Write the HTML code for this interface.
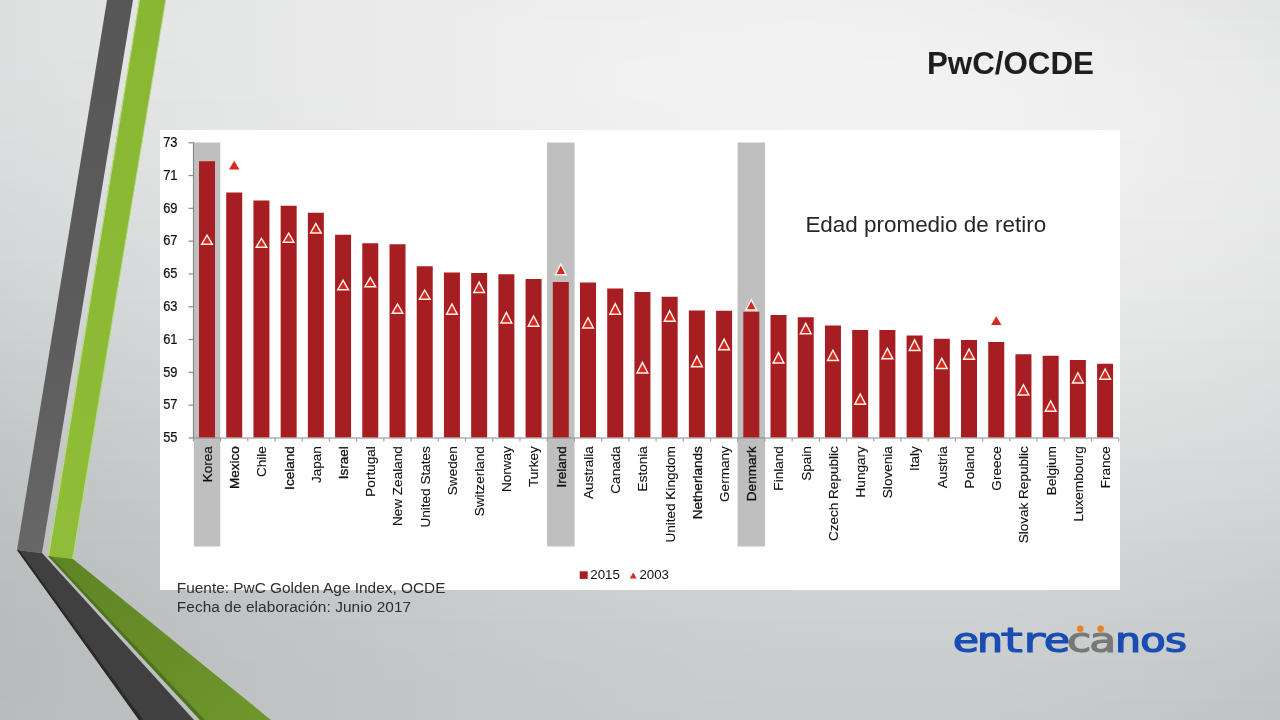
<!DOCTYPE html>
<html><head><meta charset="utf-8"><title>PwC/OCDE</title>
<style>
html,body{margin:0;padding:0;}
body{width:1280px;height:720px;overflow:hidden;position:relative;font-family:"Liberation Sans",sans-serif;background:#d8dada;}
#bg{position:absolute;left:0;top:0;width:1280px;height:720px;}
.title{position:absolute;left:927px;top:45.8px;font-weight:bold;font-size:31.3px;line-height:36px;color:#1e1e1e;white-space:nowrap;}
.sub{position:absolute;left:805.4px;top:210.6px;font-size:22.45px;line-height:28px;color:#262626;white-space:nowrap;}
.src{position:absolute;left:176.8px;top:579.1px;font-size:15.4px;line-height:18.4px;color:#2e2e2e;white-space:nowrap;}
svg text{font-family:"Liberation Sans",sans-serif;}
</style></head><body>
<svg id="bg" width="1280" height="720" viewBox="0 0 1280 720">
<defs>
<linearGradient id="s0"><stop offset="0" stop-color="#dee0e0"/><stop offset="0.0625" stop-color="#e1e2e2"/><stop offset="0.125" stop-color="#e3e5e5"/><stop offset="0.1875" stop-color="#e6e7e7"/><stop offset="0.25" stop-color="#e8e9e9"/><stop offset="0.3125" stop-color="#ebebeb"/><stop offset="0.375" stop-color="#ececec"/><stop offset="0.4375" stop-color="#eeeeee"/><stop offset="0.5" stop-color="#efefef"/><stop offset="0.5625" stop-color="#f0f0f0"/><stop offset="0.625" stop-color="#f0f0f0"/><stop offset="0.6875" stop-color="#efefef"/><stop offset="0.75" stop-color="#eeeeee"/><stop offset="0.8125" stop-color="#ececec"/><stop offset="0.875" stop-color="#eaeaea"/><stop offset="0.9375" stop-color="#e7e7e7"/><stop offset="1" stop-color="#e3e4e4"/></linearGradient>
<linearGradient id="s1"><stop offset="0" stop-color="#dee0e0"/><stop offset="0.0625" stop-color="#e1e3e3"/><stop offset="0.125" stop-color="#e4e5e5"/><stop offset="0.1875" stop-color="#e6e7e7"/><stop offset="0.25" stop-color="#e9e9e9"/><stop offset="0.3125" stop-color="#ebebeb"/><stop offset="0.375" stop-color="#ededed"/><stop offset="0.4375" stop-color="#eeeeee"/><stop offset="0.5" stop-color="#efefef"/><stop offset="0.5625" stop-color="#f0f0f0"/><stop offset="0.625" stop-color="#f0f0f0"/><stop offset="0.6875" stop-color="#f0f0f0"/><stop offset="0.75" stop-color="#efefef"/><stop offset="0.8125" stop-color="#ededed"/><stop offset="0.875" stop-color="#ebebeb"/><stop offset="0.9375" stop-color="#e7e8e8"/><stop offset="1" stop-color="#e3e5e5"/></linearGradient>
<linearGradient id="s2"><stop offset="0" stop-color="#dee0e0"/><stop offset="0.0625" stop-color="#e1e3e3"/><stop offset="0.125" stop-color="#e4e5e5"/><stop offset="0.1875" stop-color="#e6e7e7"/><stop offset="0.25" stop-color="#e9e9e9"/><stop offset="0.3125" stop-color="#ebebeb"/><stop offset="0.375" stop-color="#ededed"/><stop offset="0.4375" stop-color="#efefef"/><stop offset="0.5" stop-color="#f0f0f0"/><stop offset="0.5625" stop-color="#f0f0f0"/><stop offset="0.625" stop-color="#f1f1f1"/><stop offset="0.6875" stop-color="#f0f0f0"/><stop offset="0.75" stop-color="#efefef"/><stop offset="0.8125" stop-color="#eeeeee"/><stop offset="0.875" stop-color="#ebebeb"/><stop offset="0.9375" stop-color="#e8e9e9"/><stop offset="1" stop-color="#e4e5e5"/></linearGradient>
<linearGradient id="s3"><stop offset="0" stop-color="#dee0e0"/><stop offset="0.0625" stop-color="#e1e3e3"/><stop offset="0.125" stop-color="#e4e5e5"/><stop offset="0.1875" stop-color="#e6e7e7"/><stop offset="0.25" stop-color="#e9e9e9"/><stop offset="0.3125" stop-color="#ebebeb"/><stop offset="0.375" stop-color="#ededed"/><stop offset="0.4375" stop-color="#efefef"/><stop offset="0.5" stop-color="#f0f0f0"/><stop offset="0.5625" stop-color="#f1f1f1"/><stop offset="0.625" stop-color="#f1f1f1"/><stop offset="0.6875" stop-color="#f1f1f1"/><stop offset="0.75" stop-color="#f0f0f0"/><stop offset="0.8125" stop-color="#eeeeee"/><stop offset="0.875" stop-color="#ececec"/><stop offset="0.9375" stop-color="#e9e9e9"/><stop offset="1" stop-color="#e5e6e6"/></linearGradient>
<linearGradient id="s4"><stop offset="0" stop-color="#dee0e0"/><stop offset="0.0625" stop-color="#e1e3e3"/><stop offset="0.125" stop-color="#e4e5e5"/><stop offset="0.1875" stop-color="#e6e7e7"/><stop offset="0.25" stop-color="#e9e9e9"/><stop offset="0.3125" stop-color="#ebebeb"/><stop offset="0.375" stop-color="#ededed"/><stop offset="0.4375" stop-color="#efefef"/><stop offset="0.5" stop-color="#f0f0f0"/><stop offset="0.5625" stop-color="#f1f1f1"/><stop offset="0.625" stop-color="#f1f1f1"/><stop offset="0.6875" stop-color="#f1f1f1"/><stop offset="0.75" stop-color="#f0f0f0"/><stop offset="0.8125" stop-color="#efefef"/><stop offset="0.875" stop-color="#ededed"/><stop offset="0.9375" stop-color="#eaeaea"/><stop offset="1" stop-color="#e6e7e7"/></linearGradient>
<linearGradient id="s5"><stop offset="0" stop-color="#dee0e0"/><stop offset="0.0625" stop-color="#e1e2e2"/><stop offset="0.125" stop-color="#e4e5e5"/><stop offset="0.1875" stop-color="#e6e7e7"/><stop offset="0.25" stop-color="#e9e9e9"/><stop offset="0.3125" stop-color="#ebebeb"/><stop offset="0.375" stop-color="#ededed"/><stop offset="0.4375" stop-color="#efefef"/><stop offset="0.5" stop-color="#f0f0f0"/><stop offset="0.5625" stop-color="#f1f1f1"/><stop offset="0.625" stop-color="#f2f2f2"/><stop offset="0.6875" stop-color="#f1f1f1"/><stop offset="0.75" stop-color="#f1f1f1"/><stop offset="0.8125" stop-color="#efefef"/><stop offset="0.875" stop-color="#ededed"/><stop offset="0.9375" stop-color="#eaeaea"/><stop offset="1" stop-color="#e6e7e7"/></linearGradient>
<linearGradient id="s6"><stop offset="0" stop-color="#dde0e0"/><stop offset="0.0625" stop-color="#e0e2e2"/><stop offset="0.125" stop-color="#e3e5e5"/><stop offset="0.1875" stop-color="#e6e7e7"/><stop offset="0.25" stop-color="#e9e9e9"/><stop offset="0.3125" stop-color="#ebebeb"/><stop offset="0.375" stop-color="#ededed"/><stop offset="0.4375" stop-color="#efefef"/><stop offset="0.5" stop-color="#f1f1f1"/><stop offset="0.5625" stop-color="#f1f1f1"/><stop offset="0.625" stop-color="#f2f2f2"/><stop offset="0.6875" stop-color="#f2f2f2"/><stop offset="0.75" stop-color="#f1f1f1"/><stop offset="0.8125" stop-color="#f0f0f0"/><stop offset="0.875" stop-color="#ededed"/><stop offset="0.9375" stop-color="#ebebeb"/><stop offset="1" stop-color="#e7e8e8"/></linearGradient>
<linearGradient id="s7"><stop offset="0" stop-color="#dde0e0"/><stop offset="0.0625" stop-color="#e0e2e2"/><stop offset="0.125" stop-color="#e3e5e5"/><stop offset="0.1875" stop-color="#e6e7e7"/><stop offset="0.25" stop-color="#e9e9e9"/><stop offset="0.3125" stop-color="#ebebeb"/><stop offset="0.375" stop-color="#ededed"/><stop offset="0.4375" stop-color="#efefef"/><stop offset="0.5" stop-color="#f1f1f1"/><stop offset="0.5625" stop-color="#f2f2f2"/><stop offset="0.625" stop-color="#f2f2f2"/><stop offset="0.6875" stop-color="#f2f2f2"/><stop offset="0.75" stop-color="#f1f1f1"/><stop offset="0.8125" stop-color="#f0f0f0"/><stop offset="0.875" stop-color="#eeeeee"/><stop offset="0.9375" stop-color="#ebebeb"/><stop offset="1" stop-color="#e7e8e8"/></linearGradient>
<linearGradient id="s8"><stop offset="0" stop-color="#dddfdf"/><stop offset="0.0625" stop-color="#e0e2e2"/><stop offset="0.125" stop-color="#e3e4e4"/><stop offset="0.1875" stop-color="#e6e7e7"/><stop offset="0.25" stop-color="#e9e9e9"/><stop offset="0.3125" stop-color="#ebebeb"/><stop offset="0.375" stop-color="#ededed"/><stop offset="0.4375" stop-color="#efefef"/><stop offset="0.5" stop-color="#f1f1f1"/><stop offset="0.5625" stop-color="#f2f2f2"/><stop offset="0.625" stop-color="#f2f2f2"/><stop offset="0.6875" stop-color="#f2f2f2"/><stop offset="0.75" stop-color="#f1f1f1"/><stop offset="0.8125" stop-color="#f0f0f0"/><stop offset="0.875" stop-color="#eeeeee"/><stop offset="0.9375" stop-color="#ebebeb"/><stop offset="1" stop-color="#e8e8e8"/></linearGradient>
<linearGradient id="s9"><stop offset="0" stop-color="#dddfdf"/><stop offset="0.0625" stop-color="#e0e2e2"/><stop offset="0.125" stop-color="#e3e4e4"/><stop offset="0.1875" stop-color="#e6e7e7"/><stop offset="0.25" stop-color="#e8e9e9"/><stop offset="0.3125" stop-color="#ebebeb"/><stop offset="0.375" stop-color="#ededed"/><stop offset="0.4375" stop-color="#efefef"/><stop offset="0.5" stop-color="#f1f1f1"/><stop offset="0.5625" stop-color="#f2f2f2"/><stop offset="0.625" stop-color="#f2f2f2"/><stop offset="0.6875" stop-color="#f2f2f2"/><stop offset="0.75" stop-color="#f2f2f2"/><stop offset="0.8125" stop-color="#f0f0f0"/><stop offset="0.875" stop-color="#eeeeee"/><stop offset="0.9375" stop-color="#ececec"/><stop offset="1" stop-color="#e8e9e9"/></linearGradient>
<linearGradient id="s10"><stop offset="0" stop-color="#dcdfdf"/><stop offset="0.0625" stop-color="#dfe1e1"/><stop offset="0.125" stop-color="#e2e4e4"/><stop offset="0.1875" stop-color="#e5e6e6"/><stop offset="0.25" stop-color="#e8e9e9"/><stop offset="0.3125" stop-color="#ebebeb"/><stop offset="0.375" stop-color="#ededed"/><stop offset="0.4375" stop-color="#efefef"/><stop offset="0.5" stop-color="#f0f0f0"/><stop offset="0.5625" stop-color="#f2f2f2"/><stop offset="0.625" stop-color="#f2f2f2"/><stop offset="0.6875" stop-color="#f2f2f2"/><stop offset="0.75" stop-color="#f2f2f2"/><stop offset="0.8125" stop-color="#f0f0f0"/><stop offset="0.875" stop-color="#eeeeee"/><stop offset="0.9375" stop-color="#ececec"/><stop offset="1" stop-color="#e8e9e9"/></linearGradient>
<linearGradient id="s11"><stop offset="0" stop-color="#dcdede"/><stop offset="0.0625" stop-color="#dfe1e1"/><stop offset="0.125" stop-color="#e2e4e4"/><stop offset="0.1875" stop-color="#e5e6e6"/><stop offset="0.25" stop-color="#e8e9e9"/><stop offset="0.3125" stop-color="#eaebeb"/><stop offset="0.375" stop-color="#ededed"/><stop offset="0.4375" stop-color="#efefef"/><stop offset="0.5" stop-color="#f0f0f0"/><stop offset="0.5625" stop-color="#f1f1f1"/><stop offset="0.625" stop-color="#f2f2f2"/><stop offset="0.6875" stop-color="#f2f2f2"/><stop offset="0.75" stop-color="#f2f2f2"/><stop offset="0.8125" stop-color="#f0f0f0"/><stop offset="0.875" stop-color="#efefef"/><stop offset="0.9375" stop-color="#ececec"/><stop offset="1" stop-color="#e8e9e9"/></linearGradient>
<linearGradient id="s12"><stop offset="0" stop-color="#dbdede"/><stop offset="0.0625" stop-color="#dee1e1"/><stop offset="0.125" stop-color="#e2e3e3"/><stop offset="0.1875" stop-color="#e5e6e6"/><stop offset="0.25" stop-color="#e8e8e8"/><stop offset="0.3125" stop-color="#eaeaea"/><stop offset="0.375" stop-color="#ececec"/><stop offset="0.4375" stop-color="#eeeeee"/><stop offset="0.5" stop-color="#f0f0f0"/><stop offset="0.5625" stop-color="#f1f1f1"/><stop offset="0.625" stop-color="#f2f2f2"/><stop offset="0.6875" stop-color="#f2f2f2"/><stop offset="0.75" stop-color="#f2f2f2"/><stop offset="0.8125" stop-color="#f0f0f0"/><stop offset="0.875" stop-color="#efefef"/><stop offset="0.9375" stop-color="#ececec"/><stop offset="1" stop-color="#e9e9e9"/></linearGradient>
<linearGradient id="s13"><stop offset="0" stop-color="#dbdede"/><stop offset="0.0625" stop-color="#dee0e0"/><stop offset="0.125" stop-color="#e1e3e3"/><stop offset="0.1875" stop-color="#e4e5e5"/><stop offset="0.25" stop-color="#e7e8e8"/><stop offset="0.3125" stop-color="#eaeaea"/><stop offset="0.375" stop-color="#ececec"/><stop offset="0.4375" stop-color="#eeeeee"/><stop offset="0.5" stop-color="#f0f0f0"/><stop offset="0.5625" stop-color="#f1f1f1"/><stop offset="0.625" stop-color="#f2f2f2"/><stop offset="0.6875" stop-color="#f2f2f2"/><stop offset="0.75" stop-color="#f1f1f1"/><stop offset="0.8125" stop-color="#f0f0f0"/><stop offset="0.875" stop-color="#efefef"/><stop offset="0.9375" stop-color="#ececec"/><stop offset="1" stop-color="#e9e9e9"/></linearGradient>
<linearGradient id="s14"><stop offset="0" stop-color="#dadddd"/><stop offset="0.0625" stop-color="#dee0e0"/><stop offset="0.125" stop-color="#e1e3e3"/><stop offset="0.1875" stop-color="#e4e5e5"/><stop offset="0.25" stop-color="#e7e8e8"/><stop offset="0.3125" stop-color="#e9eaea"/><stop offset="0.375" stop-color="#ececec"/><stop offset="0.4375" stop-color="#eeeeee"/><stop offset="0.5" stop-color="#efefef"/><stop offset="0.5625" stop-color="#f1f1f1"/><stop offset="0.625" stop-color="#f1f1f1"/><stop offset="0.6875" stop-color="#f2f2f2"/><stop offset="0.75" stop-color="#f1f1f1"/><stop offset="0.8125" stop-color="#f0f0f0"/><stop offset="0.875" stop-color="#eeeeee"/><stop offset="0.9375" stop-color="#ececec"/><stop offset="1" stop-color="#e9e9e9"/></linearGradient>
<linearGradient id="s15"><stop offset="0" stop-color="#dadddd"/><stop offset="0.0625" stop-color="#dddfdf"/><stop offset="0.125" stop-color="#e0e2e2"/><stop offset="0.1875" stop-color="#e3e5e5"/><stop offset="0.25" stop-color="#e6e7e7"/><stop offset="0.3125" stop-color="#e9e9e9"/><stop offset="0.375" stop-color="#ebebeb"/><stop offset="0.4375" stop-color="#ededed"/><stop offset="0.5" stop-color="#efefef"/><stop offset="0.5625" stop-color="#f0f0f0"/><stop offset="0.625" stop-color="#f1f1f1"/><stop offset="0.6875" stop-color="#f1f1f1"/><stop offset="0.75" stop-color="#f1f1f1"/><stop offset="0.8125" stop-color="#f0f0f0"/><stop offset="0.875" stop-color="#eeeeee"/><stop offset="0.9375" stop-color="#ececec"/><stop offset="1" stop-color="#e9e9e9"/></linearGradient>
<linearGradient id="s16"><stop offset="0" stop-color="#d9dcdc"/><stop offset="0.0625" stop-color="#dcdfdf"/><stop offset="0.125" stop-color="#e0e2e2"/><stop offset="0.1875" stop-color="#e3e4e4"/><stop offset="0.25" stop-color="#e6e7e7"/><stop offset="0.3125" stop-color="#e8e9e9"/><stop offset="0.375" stop-color="#ebebeb"/><stop offset="0.4375" stop-color="#ededed"/><stop offset="0.5" stop-color="#efefef"/><stop offset="0.5625" stop-color="#f0f0f0"/><stop offset="0.625" stop-color="#f1f1f1"/><stop offset="0.6875" stop-color="#f1f1f1"/><stop offset="0.75" stop-color="#f1f1f1"/><stop offset="0.8125" stop-color="#f0f0f0"/><stop offset="0.875" stop-color="#eeeeee"/><stop offset="0.9375" stop-color="#ececec"/><stop offset="1" stop-color="#e9e9e9"/></linearGradient>
<linearGradient id="s17"><stop offset="0" stop-color="#d8dcdc"/><stop offset="0.0625" stop-color="#dcdede"/><stop offset="0.125" stop-color="#dfe1e1"/><stop offset="0.1875" stop-color="#e2e4e4"/><stop offset="0.25" stop-color="#e5e6e6"/><stop offset="0.3125" stop-color="#e8e9e9"/><stop offset="0.375" stop-color="#eaebeb"/><stop offset="0.4375" stop-color="#ededed"/><stop offset="0.5" stop-color="#eeeeee"/><stop offset="0.5625" stop-color="#f0f0f0"/><stop offset="0.625" stop-color="#f0f0f0"/><stop offset="0.6875" stop-color="#f1f1f1"/><stop offset="0.75" stop-color="#f0f0f0"/><stop offset="0.8125" stop-color="#f0f0f0"/><stop offset="0.875" stop-color="#eeeeee"/><stop offset="0.9375" stop-color="#ececec"/><stop offset="1" stop-color="#e8e9e9"/></linearGradient>
<linearGradient id="s18"><stop offset="0" stop-color="#d8dbdb"/><stop offset="0.0625" stop-color="#dbdede"/><stop offset="0.125" stop-color="#dee1e1"/><stop offset="0.1875" stop-color="#e2e3e3"/><stop offset="0.25" stop-color="#e5e6e6"/><stop offset="0.3125" stop-color="#e7e8e8"/><stop offset="0.375" stop-color="#eaeaea"/><stop offset="0.4375" stop-color="#ececec"/><stop offset="0.5" stop-color="#eeeeee"/><stop offset="0.5625" stop-color="#efefef"/><stop offset="0.625" stop-color="#f0f0f0"/><stop offset="0.6875" stop-color="#f0f0f0"/><stop offset="0.75" stop-color="#f0f0f0"/><stop offset="0.8125" stop-color="#efefef"/><stop offset="0.875" stop-color="#eeeeee"/><stop offset="0.9375" stop-color="#ebebeb"/><stop offset="1" stop-color="#e8e9e9"/></linearGradient>
<linearGradient id="s19"><stop offset="0" stop-color="#d7dada"/><stop offset="0.0625" stop-color="#dadddd"/><stop offset="0.125" stop-color="#dee0e0"/><stop offset="0.1875" stop-color="#e1e3e3"/><stop offset="0.25" stop-color="#e4e5e5"/><stop offset="0.3125" stop-color="#e7e8e8"/><stop offset="0.375" stop-color="#e9eaea"/><stop offset="0.4375" stop-color="#ebecec"/><stop offset="0.5" stop-color="#ededed"/><stop offset="0.5625" stop-color="#efefef"/><stop offset="0.625" stop-color="#f0f0f0"/><stop offset="0.6875" stop-color="#f0f0f0"/><stop offset="0.75" stop-color="#f0f0f0"/><stop offset="0.8125" stop-color="#efefef"/><stop offset="0.875" stop-color="#ededed"/><stop offset="0.9375" stop-color="#ebebeb"/><stop offset="1" stop-color="#e8e9e9"/></linearGradient>
<linearGradient id="s20"><stop offset="0" stop-color="#d6dada"/><stop offset="0.0625" stop-color="#dadddd"/><stop offset="0.125" stop-color="#dddfdf"/><stop offset="0.1875" stop-color="#e0e2e2"/><stop offset="0.25" stop-color="#e3e5e5"/><stop offset="0.3125" stop-color="#e6e7e7"/><stop offset="0.375" stop-color="#e9e9e9"/><stop offset="0.4375" stop-color="#ebebeb"/><stop offset="0.5" stop-color="#ededed"/><stop offset="0.5625" stop-color="#eeeeee"/><stop offset="0.625" stop-color="#efefef"/><stop offset="0.6875" stop-color="#efefef"/><stop offset="0.75" stop-color="#efefef"/><stop offset="0.8125" stop-color="#eeeeee"/><stop offset="0.875" stop-color="#ededed"/><stop offset="0.9375" stop-color="#ebebeb"/><stop offset="1" stop-color="#e8e8e8"/></linearGradient>
<linearGradient id="s21"><stop offset="0" stop-color="#d6d9d9"/><stop offset="0.0625" stop-color="#d9dcdc"/><stop offset="0.125" stop-color="#dcdfdf"/><stop offset="0.1875" stop-color="#e0e2e2"/><stop offset="0.25" stop-color="#e3e4e4"/><stop offset="0.3125" stop-color="#e5e6e6"/><stop offset="0.375" stop-color="#e8e9e9"/><stop offset="0.4375" stop-color="#eaebeb"/><stop offset="0.5" stop-color="#ececec"/><stop offset="0.5625" stop-color="#eeeeee"/><stop offset="0.625" stop-color="#efefef"/><stop offset="0.6875" stop-color="#efefef"/><stop offset="0.75" stop-color="#efefef"/><stop offset="0.8125" stop-color="#eeeeee"/><stop offset="0.875" stop-color="#ededed"/><stop offset="0.9375" stop-color="#eaebeb"/><stop offset="1" stop-color="#e7e8e8"/></linearGradient>
<linearGradient id="s22"><stop offset="0" stop-color="#d5d9d9"/><stop offset="0.0625" stop-color="#d8dbdb"/><stop offset="0.125" stop-color="#dcdede"/><stop offset="0.1875" stop-color="#dfe1e1"/><stop offset="0.25" stop-color="#e2e4e4"/><stop offset="0.3125" stop-color="#e5e6e6"/><stop offset="0.375" stop-color="#e7e8e8"/><stop offset="0.4375" stop-color="#eaeaea"/><stop offset="0.5" stop-color="#ebecec"/><stop offset="0.5625" stop-color="#ededed"/><stop offset="0.625" stop-color="#eeeeee"/><stop offset="0.6875" stop-color="#eeeeee"/><stop offset="0.75" stop-color="#eeeeee"/><stop offset="0.8125" stop-color="#eeeeee"/><stop offset="0.875" stop-color="#ececec"/><stop offset="0.9375" stop-color="#eaeaea"/><stop offset="1" stop-color="#e7e8e8"/></linearGradient>
<linearGradient id="s23"><stop offset="0" stop-color="#d4d8d8"/><stop offset="0.0625" stop-color="#d8dbdb"/><stop offset="0.125" stop-color="#dbdede"/><stop offset="0.1875" stop-color="#dee0e0"/><stop offset="0.25" stop-color="#e1e3e3"/><stop offset="0.3125" stop-color="#e4e5e5"/><stop offset="0.375" stop-color="#e7e7e7"/><stop offset="0.4375" stop-color="#e9e9e9"/><stop offset="0.5" stop-color="#ebebeb"/><stop offset="0.5625" stop-color="#ececec"/><stop offset="0.625" stop-color="#ededed"/><stop offset="0.6875" stop-color="#eeeeee"/><stop offset="0.75" stop-color="#eeeeee"/><stop offset="0.8125" stop-color="#ededed"/><stop offset="0.875" stop-color="#ececec"/><stop offset="0.9375" stop-color="#e9eaea"/><stop offset="1" stop-color="#e7e7e7"/></linearGradient>
<linearGradient id="s24"><stop offset="0" stop-color="#d3d7d7"/><stop offset="0.0625" stop-color="#d7dada"/><stop offset="0.125" stop-color="#dadddd"/><stop offset="0.1875" stop-color="#dde0e0"/><stop offset="0.25" stop-color="#e0e2e2"/><stop offset="0.3125" stop-color="#e3e5e5"/><stop offset="0.375" stop-color="#e6e7e7"/><stop offset="0.4375" stop-color="#e8e9e9"/><stop offset="0.5" stop-color="#eaeaea"/><stop offset="0.5625" stop-color="#ececec"/><stop offset="0.625" stop-color="#ededed"/><stop offset="0.6875" stop-color="#ededed"/><stop offset="0.75" stop-color="#ededed"/><stop offset="0.8125" stop-color="#ececec"/><stop offset="0.875" stop-color="#ebebeb"/><stop offset="0.9375" stop-color="#e9e9e9"/><stop offset="1" stop-color="#e6e7e7"/></linearGradient>
<linearGradient id="s25"><stop offset="0" stop-color="#d3d7d7"/><stop offset="0.0625" stop-color="#d6dada"/><stop offset="0.125" stop-color="#d9dcdc"/><stop offset="0.1875" stop-color="#dddfdf"/><stop offset="0.25" stop-color="#e0e2e2"/><stop offset="0.3125" stop-color="#e3e4e4"/><stop offset="0.375" stop-color="#e5e6e6"/><stop offset="0.4375" stop-color="#e7e8e8"/><stop offset="0.5" stop-color="#e9eaea"/><stop offset="0.5625" stop-color="#ebebeb"/><stop offset="0.625" stop-color="#ececec"/><stop offset="0.6875" stop-color="#ededed"/><stop offset="0.75" stop-color="#ededed"/><stop offset="0.8125" stop-color="#ececec"/><stop offset="0.875" stop-color="#ebebeb"/><stop offset="0.9375" stop-color="#e8e9e9"/><stop offset="1" stop-color="#e6e7e7"/></linearGradient>
<linearGradient id="s26"><stop offset="0" stop-color="#d2d6d6"/><stop offset="0.0625" stop-color="#d5d9d9"/><stop offset="0.125" stop-color="#d9dcdc"/><stop offset="0.1875" stop-color="#dcdede"/><stop offset="0.25" stop-color="#dfe1e1"/><stop offset="0.3125" stop-color="#e2e3e3"/><stop offset="0.375" stop-color="#e4e6e6"/><stop offset="0.4375" stop-color="#e7e8e8"/><stop offset="0.5" stop-color="#e9e9e9"/><stop offset="0.5625" stop-color="#eaebeb"/><stop offset="0.625" stop-color="#ebebeb"/><stop offset="0.6875" stop-color="#ececec"/><stop offset="0.75" stop-color="#ececec"/><stop offset="0.8125" stop-color="#ebebeb"/><stop offset="0.875" stop-color="#eaeaea"/><stop offset="0.9375" stop-color="#e8e9e9"/><stop offset="1" stop-color="#e5e6e6"/></linearGradient>
<linearGradient id="s27"><stop offset="0" stop-color="#d1d5d5"/><stop offset="0.0625" stop-color="#d4d8d8"/><stop offset="0.125" stop-color="#d8dbdb"/><stop offset="0.1875" stop-color="#dbdede"/><stop offset="0.25" stop-color="#dee0e0"/><stop offset="0.3125" stop-color="#e1e3e3"/><stop offset="0.375" stop-color="#e4e5e5"/><stop offset="0.4375" stop-color="#e6e7e7"/><stop offset="0.5" stop-color="#e8e9e9"/><stop offset="0.5625" stop-color="#e9eaea"/><stop offset="0.625" stop-color="#ebebeb"/><stop offset="0.6875" stop-color="#ebebeb"/><stop offset="0.75" stop-color="#ebebeb"/><stop offset="0.8125" stop-color="#ebebeb"/><stop offset="0.875" stop-color="#e9eaea"/><stop offset="0.9375" stop-color="#e7e8e8"/><stop offset="1" stop-color="#e4e6e6"/></linearGradient>
<linearGradient id="s28"><stop offset="0" stop-color="#d0d4d4"/><stop offset="0.0625" stop-color="#d3d7d7"/><stop offset="0.125" stop-color="#d7dada"/><stop offset="0.1875" stop-color="#dadddd"/><stop offset="0.25" stop-color="#dde0e0"/><stop offset="0.3125" stop-color="#e0e2e2"/><stop offset="0.375" stop-color="#e3e4e4"/><stop offset="0.4375" stop-color="#e5e6e6"/><stop offset="0.5" stop-color="#e7e8e8"/><stop offset="0.5625" stop-color="#e9e9e9"/><stop offset="0.625" stop-color="#eaeaea"/><stop offset="0.6875" stop-color="#eaebeb"/><stop offset="0.75" stop-color="#eaebeb"/><stop offset="0.8125" stop-color="#eaeaea"/><stop offset="0.875" stop-color="#e9e9e9"/><stop offset="0.9375" stop-color="#e7e7e7"/><stop offset="1" stop-color="#e4e5e5"/></linearGradient>
<linearGradient id="s29"><stop offset="0" stop-color="#cfd3d3"/><stop offset="0.0625" stop-color="#d3d7d7"/><stop offset="0.125" stop-color="#d6dada"/><stop offset="0.1875" stop-color="#d9dcdc"/><stop offset="0.25" stop-color="#dcdfdf"/><stop offset="0.3125" stop-color="#dfe1e1"/><stop offset="0.375" stop-color="#e2e4e4"/><stop offset="0.4375" stop-color="#e4e6e6"/><stop offset="0.5" stop-color="#e6e7e7"/><stop offset="0.5625" stop-color="#e8e9e9"/><stop offset="0.625" stop-color="#e9e9e9"/><stop offset="0.6875" stop-color="#eaeaea"/><stop offset="0.75" stop-color="#eaeaea"/><stop offset="0.8125" stop-color="#e9eaea"/><stop offset="0.875" stop-color="#e8e9e9"/><stop offset="0.9375" stop-color="#e6e7e7"/><stop offset="1" stop-color="#e3e5e5"/></linearGradient>
<linearGradient id="s30"><stop offset="0" stop-color="#ced2d2"/><stop offset="0.0625" stop-color="#d2d6d6"/><stop offset="0.125" stop-color="#d5d9d9"/><stop offset="0.1875" stop-color="#d8dcdc"/><stop offset="0.25" stop-color="#dbdede"/><stop offset="0.3125" stop-color="#dee1e1"/><stop offset="0.375" stop-color="#e1e3e3"/><stop offset="0.4375" stop-color="#e3e5e5"/><stop offset="0.5" stop-color="#e5e7e7"/><stop offset="0.5625" stop-color="#e7e8e8"/><stop offset="0.625" stop-color="#e8e9e9"/><stop offset="0.6875" stop-color="#e9e9e9"/><stop offset="0.75" stop-color="#e9e9e9"/><stop offset="0.8125" stop-color="#e8e9e9"/><stop offset="0.875" stop-color="#e7e8e8"/><stop offset="0.9375" stop-color="#e5e6e6"/><stop offset="1" stop-color="#e2e4e4"/></linearGradient>
<linearGradient id="s31"><stop offset="0" stop-color="#cdd1d1"/><stop offset="0.0625" stop-color="#d1d5d5"/><stop offset="0.125" stop-color="#d4d8d8"/><stop offset="0.1875" stop-color="#d7dbdb"/><stop offset="0.25" stop-color="#dbdddd"/><stop offset="0.3125" stop-color="#dee0e0"/><stop offset="0.375" stop-color="#e0e2e2"/><stop offset="0.4375" stop-color="#e3e4e4"/><stop offset="0.5" stop-color="#e5e6e6"/><stop offset="0.5625" stop-color="#e6e7e7"/><stop offset="0.625" stop-color="#e7e8e8"/><stop offset="0.6875" stop-color="#e8e9e9"/><stop offset="0.75" stop-color="#e8e9e9"/><stop offset="0.8125" stop-color="#e8e8e8"/><stop offset="0.875" stop-color="#e6e7e7"/><stop offset="0.9375" stop-color="#e4e6e6"/><stop offset="1" stop-color="#e2e3e3"/></linearGradient>
<linearGradient id="s32"><stop offset="0" stop-color="#cdd1d1"/><stop offset="0.0625" stop-color="#d0d4d4"/><stop offset="0.125" stop-color="#d3d7d7"/><stop offset="0.1875" stop-color="#d7dada"/><stop offset="0.25" stop-color="#dadddd"/><stop offset="0.3125" stop-color="#dddfdf"/><stop offset="0.375" stop-color="#dfe1e1"/><stop offset="0.4375" stop-color="#e2e3e3"/><stop offset="0.5" stop-color="#e4e5e5"/><stop offset="0.5625" stop-color="#e5e6e6"/><stop offset="0.625" stop-color="#e7e7e7"/><stop offset="0.6875" stop-color="#e7e8e8"/><stop offset="0.75" stop-color="#e7e8e8"/><stop offset="0.8125" stop-color="#e7e8e8"/><stop offset="0.875" stop-color="#e6e7e7"/><stop offset="0.9375" stop-color="#e4e5e5"/><stop offset="1" stop-color="#e1e3e3"/></linearGradient>
<linearGradient id="s33"><stop offset="0" stop-color="#ccd0d0"/><stop offset="0.0625" stop-color="#cfd3d3"/><stop offset="0.125" stop-color="#d2d6d6"/><stop offset="0.1875" stop-color="#d6d9d9"/><stop offset="0.25" stop-color="#d9dcdc"/><stop offset="0.3125" stop-color="#dcdede"/><stop offset="0.375" stop-color="#dee1e1"/><stop offset="0.4375" stop-color="#e1e3e3"/><stop offset="0.5" stop-color="#e3e4e4"/><stop offset="0.5625" stop-color="#e4e6e6"/><stop offset="0.625" stop-color="#e6e7e7"/><stop offset="0.6875" stop-color="#e6e7e7"/><stop offset="0.75" stop-color="#e6e7e7"/><stop offset="0.8125" stop-color="#e6e7e7"/><stop offset="0.875" stop-color="#e5e6e6"/><stop offset="0.9375" stop-color="#e3e4e4"/><stop offset="1" stop-color="#e0e2e2"/></linearGradient>
<linearGradient id="s34"><stop offset="0" stop-color="#cbcfcf"/><stop offset="0.0625" stop-color="#ced2d2"/><stop offset="0.125" stop-color="#d2d6d6"/><stop offset="0.1875" stop-color="#d5d9d9"/><stop offset="0.25" stop-color="#d8dbdb"/><stop offset="0.3125" stop-color="#dbdede"/><stop offset="0.375" stop-color="#dee0e0"/><stop offset="0.4375" stop-color="#e0e2e2"/><stop offset="0.5" stop-color="#e2e4e4"/><stop offset="0.5625" stop-color="#e4e5e5"/><stop offset="0.625" stop-color="#e5e6e6"/><stop offset="0.6875" stop-color="#e5e6e6"/><stop offset="0.75" stop-color="#e6e7e7"/><stop offset="0.8125" stop-color="#e5e6e6"/><stop offset="0.875" stop-color="#e4e5e5"/><stop offset="0.9375" stop-color="#e2e4e4"/><stop offset="1" stop-color="#dfe1e1"/></linearGradient>
<linearGradient id="s35"><stop offset="0" stop-color="#cacece"/><stop offset="0.0625" stop-color="#cdd1d1"/><stop offset="0.125" stop-color="#d1d5d5"/><stop offset="0.1875" stop-color="#d4d8d8"/><stop offset="0.25" stop-color="#d7dada"/><stop offset="0.3125" stop-color="#dadddd"/><stop offset="0.375" stop-color="#dddfdf"/><stop offset="0.4375" stop-color="#dfe1e1"/><stop offset="0.5" stop-color="#e1e3e3"/><stop offset="0.5625" stop-color="#e3e4e4"/><stop offset="0.625" stop-color="#e4e5e5"/><stop offset="0.6875" stop-color="#e5e6e6"/><stop offset="0.75" stop-color="#e5e6e6"/><stop offset="0.8125" stop-color="#e4e5e5"/><stop offset="0.875" stop-color="#e3e5e5"/><stop offset="0.9375" stop-color="#e1e3e3"/><stop offset="1" stop-color="#dfe1e1"/></linearGradient>
<linearGradient id="s36"><stop offset="0" stop-color="#c9cdcd"/><stop offset="0.0625" stop-color="#ccd0d0"/><stop offset="0.125" stop-color="#d0d4d4"/><stop offset="0.1875" stop-color="#d3d7d7"/><stop offset="0.25" stop-color="#d6dada"/><stop offset="0.3125" stop-color="#d9dcdc"/><stop offset="0.375" stop-color="#dcdede"/><stop offset="0.4375" stop-color="#dee0e0"/><stop offset="0.5" stop-color="#e0e2e2"/><stop offset="0.5625" stop-color="#e2e3e3"/><stop offset="0.625" stop-color="#e3e4e4"/><stop offset="0.6875" stop-color="#e4e5e5"/><stop offset="0.75" stop-color="#e4e5e5"/><stop offset="0.8125" stop-color="#e3e5e5"/><stop offset="0.875" stop-color="#e2e4e4"/><stop offset="0.9375" stop-color="#e0e2e2"/><stop offset="1" stop-color="#dee0e0"/></linearGradient>
<linearGradient id="s37"><stop offset="0" stop-color="#c8cccc"/><stop offset="0.0625" stop-color="#ccd0d0"/><stop offset="0.125" stop-color="#cfd3d3"/><stop offset="0.1875" stop-color="#d2d6d6"/><stop offset="0.25" stop-color="#d5d9d9"/><stop offset="0.3125" stop-color="#d8dbdb"/><stop offset="0.375" stop-color="#dbdede"/><stop offset="0.4375" stop-color="#dde0e0"/><stop offset="0.5" stop-color="#dfe1e1"/><stop offset="0.5625" stop-color="#e1e3e3"/><stop offset="0.625" stop-color="#e2e4e4"/><stop offset="0.6875" stop-color="#e3e4e4"/><stop offset="0.75" stop-color="#e3e4e4"/><stop offset="0.8125" stop-color="#e2e4e4"/><stop offset="0.875" stop-color="#e1e3e3"/><stop offset="0.9375" stop-color="#e0e2e2"/><stop offset="1" stop-color="#dddfdf"/></linearGradient>
<linearGradient id="s38"><stop offset="0" stop-color="#c7cbcb"/><stop offset="0.0625" stop-color="#cbcfcf"/><stop offset="0.125" stop-color="#ced2d2"/><stop offset="0.1875" stop-color="#d1d5d5"/><stop offset="0.25" stop-color="#d4d8d8"/><stop offset="0.3125" stop-color="#d7dada"/><stop offset="0.375" stop-color="#dadddd"/><stop offset="0.4375" stop-color="#dcdfdf"/><stop offset="0.5" stop-color="#dee0e0"/><stop offset="0.5625" stop-color="#e0e2e2"/><stop offset="0.625" stop-color="#e1e3e3"/><stop offset="0.6875" stop-color="#e2e3e3"/><stop offset="0.75" stop-color="#e2e4e4"/><stop offset="0.8125" stop-color="#e2e3e3"/><stop offset="0.875" stop-color="#e0e2e2"/><stop offset="0.9375" stop-color="#dfe1e1"/><stop offset="1" stop-color="#dcdfdf"/></linearGradient>
<linearGradient id="s39"><stop offset="0" stop-color="#c6caca"/><stop offset="0.0625" stop-color="#cacece"/><stop offset="0.125" stop-color="#cdd1d1"/><stop offset="0.1875" stop-color="#d0d4d4"/><stop offset="0.25" stop-color="#d3d7d7"/><stop offset="0.3125" stop-color="#d6dada"/><stop offset="0.375" stop-color="#d9dcdc"/><stop offset="0.4375" stop-color="#dbdede"/><stop offset="0.5" stop-color="#dde0e0"/><stop offset="0.5625" stop-color="#dfe1e1"/><stop offset="0.625" stop-color="#e0e2e2"/><stop offset="0.6875" stop-color="#e1e3e3"/><stop offset="0.75" stop-color="#e1e3e3"/><stop offset="0.8125" stop-color="#e1e2e2"/><stop offset="0.875" stop-color="#dfe1e1"/><stop offset="0.9375" stop-color="#dee0e0"/><stop offset="1" stop-color="#dbdede"/></linearGradient>
<linearGradient id="s40"><stop offset="0" stop-color="#c6caca"/><stop offset="0.0625" stop-color="#c9cdcd"/><stop offset="0.125" stop-color="#ccd0d0"/><stop offset="0.1875" stop-color="#cfd3d3"/><stop offset="0.25" stop-color="#d2d6d6"/><stop offset="0.3125" stop-color="#d5d9d9"/><stop offset="0.375" stop-color="#d8dbdb"/><stop offset="0.4375" stop-color="#dadddd"/><stop offset="0.5" stop-color="#dcdfdf"/><stop offset="0.5625" stop-color="#dee0e0"/><stop offset="0.625" stop-color="#dfe1e1"/><stop offset="0.6875" stop-color="#e0e2e2"/><stop offset="0.75" stop-color="#e0e2e2"/><stop offset="0.8125" stop-color="#e0e2e2"/><stop offset="0.875" stop-color="#dfe1e1"/><stop offset="0.9375" stop-color="#dddfdf"/><stop offset="1" stop-color="#dadddd"/></linearGradient>
<linearGradient id="s41"><stop offset="0" stop-color="#c5c9c9"/><stop offset="0.0625" stop-color="#c8cccc"/><stop offset="0.125" stop-color="#cbcfcf"/><stop offset="0.1875" stop-color="#ced2d2"/><stop offset="0.25" stop-color="#d1d5d5"/><stop offset="0.3125" stop-color="#d4d8d8"/><stop offset="0.375" stop-color="#d7dada"/><stop offset="0.4375" stop-color="#d9dcdc"/><stop offset="0.5" stop-color="#dbdede"/><stop offset="0.5625" stop-color="#dddfdf"/><stop offset="0.625" stop-color="#dee0e0"/><stop offset="0.6875" stop-color="#dfe1e1"/><stop offset="0.75" stop-color="#dfe1e1"/><stop offset="0.8125" stop-color="#dfe1e1"/><stop offset="0.875" stop-color="#dee0e0"/><stop offset="0.9375" stop-color="#dcdede"/><stop offset="1" stop-color="#d9dcdc"/></linearGradient>
<linearGradient id="s42"><stop offset="0" stop-color="#c4c8c8"/><stop offset="0.0625" stop-color="#c7cbcb"/><stop offset="0.125" stop-color="#cacece"/><stop offset="0.1875" stop-color="#ced2d2"/><stop offset="0.25" stop-color="#d1d5d5"/><stop offset="0.3125" stop-color="#d3d7d7"/><stop offset="0.375" stop-color="#d6dada"/><stop offset="0.4375" stop-color="#d8dcdc"/><stop offset="0.5" stop-color="#dadddd"/><stop offset="0.5625" stop-color="#dcdfdf"/><stop offset="0.625" stop-color="#dde0e0"/><stop offset="0.6875" stop-color="#dee0e0"/><stop offset="0.75" stop-color="#dee0e0"/><stop offset="0.8125" stop-color="#dee0e0"/><stop offset="0.875" stop-color="#dddfdf"/><stop offset="0.9375" stop-color="#dbdede"/><stop offset="1" stop-color="#d8dcdc"/></linearGradient>
<linearGradient id="s43"><stop offset="0" stop-color="#c3c7c7"/><stop offset="0.0625" stop-color="#c6caca"/><stop offset="0.125" stop-color="#c9cdcd"/><stop offset="0.1875" stop-color="#cdd1d1"/><stop offset="0.25" stop-color="#d0d4d4"/><stop offset="0.3125" stop-color="#d3d7d7"/><stop offset="0.375" stop-color="#d5d9d9"/><stop offset="0.4375" stop-color="#d7dbdb"/><stop offset="0.5" stop-color="#d9dcdc"/><stop offset="0.5625" stop-color="#dbdede"/><stop offset="0.625" stop-color="#dcdfdf"/><stop offset="0.6875" stop-color="#dddfdf"/><stop offset="0.75" stop-color="#dde0e0"/><stop offset="0.8125" stop-color="#dddfdf"/><stop offset="0.875" stop-color="#dcdede"/><stop offset="0.9375" stop-color="#dadddd"/><stop offset="1" stop-color="#d7dbdb"/></linearGradient>
<linearGradient id="s44"><stop offset="0" stop-color="#c2c6c6"/><stop offset="0.0625" stop-color="#c5c9c9"/><stop offset="0.125" stop-color="#c9cdcd"/><stop offset="0.1875" stop-color="#ccd0d0"/><stop offset="0.25" stop-color="#cfd3d3"/><stop offset="0.3125" stop-color="#d2d6d6"/><stop offset="0.375" stop-color="#d4d8d8"/><stop offset="0.4375" stop-color="#d7dada"/><stop offset="0.5" stop-color="#d9dcdc"/><stop offset="0.5625" stop-color="#dadddd"/><stop offset="0.625" stop-color="#dbdede"/><stop offset="0.6875" stop-color="#dcdfdf"/><stop offset="0.75" stop-color="#dcdfdf"/><stop offset="0.8125" stop-color="#dcdede"/><stop offset="0.875" stop-color="#dbdede"/><stop offset="0.9375" stop-color="#d9dcdc"/><stop offset="1" stop-color="#d6dada"/></linearGradient>
<linearGradient id="s45"><stop offset="0" stop-color="#c1c5c5"/><stop offset="0.0625" stop-color="#c5c9c9"/><stop offset="0.125" stop-color="#c8cccc"/><stop offset="0.1875" stop-color="#cbcfcf"/><stop offset="0.25" stop-color="#ced2d2"/><stop offset="0.3125" stop-color="#d1d5d5"/><stop offset="0.375" stop-color="#d3d7d7"/><stop offset="0.4375" stop-color="#d6d9d9"/><stop offset="0.5" stop-color="#d8dbdb"/><stop offset="0.5625" stop-color="#d9dcdc"/><stop offset="0.625" stop-color="#dadddd"/><stop offset="0.6875" stop-color="#dbdede"/><stop offset="0.75" stop-color="#dbdede"/><stop offset="0.8125" stop-color="#dbdede"/><stop offset="0.875" stop-color="#dadddd"/><stop offset="0.9375" stop-color="#d8dbdb"/><stop offset="1" stop-color="#d5d9d9"/></linearGradient>
<linearGradient id="s46"><stop offset="0" stop-color="#c1c5c5"/><stop offset="0.0625" stop-color="#c4c8c8"/><stop offset="0.125" stop-color="#c7cbcb"/><stop offset="0.1875" stop-color="#cacece"/><stop offset="0.25" stop-color="#cdd1d1"/><stop offset="0.3125" stop-color="#d0d4d4"/><stop offset="0.375" stop-color="#d2d6d6"/><stop offset="0.4375" stop-color="#d5d8d8"/><stop offset="0.5" stop-color="#d7dada"/><stop offset="0.5625" stop-color="#d8dbdb"/><stop offset="0.625" stop-color="#d9dcdc"/><stop offset="0.6875" stop-color="#dadddd"/><stop offset="0.75" stop-color="#dadddd"/><stop offset="0.8125" stop-color="#dadddd"/><stop offset="0.875" stop-color="#d9dcdc"/><stop offset="0.9375" stop-color="#d7dada"/><stop offset="1" stop-color="#d5d8d8"/></linearGradient>
<linearGradient id="s47"><stop offset="0" stop-color="#c0c4c4"/><stop offset="0.0625" stop-color="#c3c7c7"/><stop offset="0.125" stop-color="#c6caca"/><stop offset="0.1875" stop-color="#c9cdcd"/><stop offset="0.25" stop-color="#ccd0d0"/><stop offset="0.3125" stop-color="#cfd3d3"/><stop offset="0.375" stop-color="#d1d5d5"/><stop offset="0.4375" stop-color="#d4d8d8"/><stop offset="0.5" stop-color="#d6d9d9"/><stop offset="0.5625" stop-color="#d7dbdb"/><stop offset="0.625" stop-color="#d9dcdc"/><stop offset="0.6875" stop-color="#d9dcdc"/><stop offset="0.75" stop-color="#d9dcdc"/><stop offset="0.8125" stop-color="#d9dcdc"/><stop offset="0.875" stop-color="#d8dbdb"/><stop offset="0.9375" stop-color="#d6dada"/><stop offset="1" stop-color="#d4d7d7"/></linearGradient>
<linearGradient id="s48"><stop offset="0" stop-color="#bfc3c3"/><stop offset="0.0625" stop-color="#c2c6c6"/><stop offset="0.125" stop-color="#c5c9c9"/><stop offset="0.1875" stop-color="#c8cccc"/><stop offset="0.25" stop-color="#cbcfcf"/><stop offset="0.3125" stop-color="#ced2d2"/><stop offset="0.375" stop-color="#d1d5d5"/><stop offset="0.4375" stop-color="#d3d7d7"/><stop offset="0.5" stop-color="#d5d9d9"/><stop offset="0.5625" stop-color="#d6dada"/><stop offset="0.625" stop-color="#d8dbdb"/><stop offset="0.6875" stop-color="#d8dbdb"/><stop offset="0.75" stop-color="#d8dcdc"/><stop offset="0.8125" stop-color="#d8dbdb"/><stop offset="0.875" stop-color="#d7dada"/><stop offset="0.9375" stop-color="#d5d9d9"/><stop offset="1" stop-color="#d3d7d7"/></linearGradient>
<linearGradient id="s49"><stop offset="0" stop-color="#bec2c2"/><stop offset="0.0625" stop-color="#c2c6c6"/><stop offset="0.125" stop-color="#c5c9c9"/><stop offset="0.1875" stop-color="#c8cccc"/><stop offset="0.25" stop-color="#cacece"/><stop offset="0.3125" stop-color="#cdd1d1"/><stop offset="0.375" stop-color="#d0d4d4"/><stop offset="0.4375" stop-color="#d2d6d6"/><stop offset="0.5" stop-color="#d4d8d8"/><stop offset="0.5625" stop-color="#d5d9d9"/><stop offset="0.625" stop-color="#d7dada"/><stop offset="0.6875" stop-color="#d7dbdb"/><stop offset="0.75" stop-color="#d7dbdb"/><stop offset="0.8125" stop-color="#d7dada"/><stop offset="0.875" stop-color="#d6d9d9"/><stop offset="0.9375" stop-color="#d4d8d8"/><stop offset="1" stop-color="#d2d6d6"/></linearGradient>
<linearGradient id="s50"><stop offset="0" stop-color="#bec2c2"/><stop offset="0.0625" stop-color="#c1c5c5"/><stop offset="0.125" stop-color="#c4c8c8"/><stop offset="0.1875" stop-color="#c7cbcb"/><stop offset="0.25" stop-color="#cacece"/><stop offset="0.3125" stop-color="#ccd0d0"/><stop offset="0.375" stop-color="#cfd3d3"/><stop offset="0.4375" stop-color="#d1d5d5"/><stop offset="0.5" stop-color="#d3d7d7"/><stop offset="0.5625" stop-color="#d5d8d8"/><stop offset="0.625" stop-color="#d6d9d9"/><stop offset="0.6875" stop-color="#d6dada"/><stop offset="0.75" stop-color="#d6dada"/><stop offset="0.8125" stop-color="#d6dada"/><stop offset="0.875" stop-color="#d5d9d9"/><stop offset="0.9375" stop-color="#d3d7d7"/><stop offset="1" stop-color="#d1d5d5"/></linearGradient>
<linearGradient id="s51"><stop offset="0" stop-color="#bdc1c1"/><stop offset="0.0625" stop-color="#c0c4c4"/><stop offset="0.125" stop-color="#c3c7c7"/><stop offset="0.1875" stop-color="#c6caca"/><stop offset="0.25" stop-color="#c9cdcd"/><stop offset="0.3125" stop-color="#ccd0d0"/><stop offset="0.375" stop-color="#ced2d2"/><stop offset="0.4375" stop-color="#d0d4d4"/><stop offset="0.5" stop-color="#d2d6d6"/><stop offset="0.5625" stop-color="#d4d8d8"/><stop offset="0.625" stop-color="#d5d9d9"/><stop offset="0.6875" stop-color="#d5d9d9"/><stop offset="0.75" stop-color="#d6d9d9"/><stop offset="0.8125" stop-color="#d5d9d9"/><stop offset="0.875" stop-color="#d4d8d8"/><stop offset="0.9375" stop-color="#d2d6d6"/><stop offset="1" stop-color="#d0d4d4"/></linearGradient>
<linearGradient id="s52"><stop offset="0" stop-color="#bcc0c0"/><stop offset="0.0625" stop-color="#bfc3c3"/><stop offset="0.125" stop-color="#c2c6c6"/><stop offset="0.1875" stop-color="#c5c9c9"/><stop offset="0.25" stop-color="#c8cccc"/><stop offset="0.3125" stop-color="#cbcfcf"/><stop offset="0.375" stop-color="#cdd1d1"/><stop offset="0.4375" stop-color="#cfd3d3"/><stop offset="0.5" stop-color="#d1d5d5"/><stop offset="0.5625" stop-color="#d3d7d7"/><stop offset="0.625" stop-color="#d4d8d8"/><stop offset="0.6875" stop-color="#d5d8d8"/><stop offset="0.75" stop-color="#d5d8d8"/><stop offset="0.8125" stop-color="#d4d8d8"/><stop offset="0.875" stop-color="#d3d7d7"/><stop offset="0.9375" stop-color="#d1d5d5"/><stop offset="1" stop-color="#cfd3d3"/></linearGradient>
<linearGradient id="s53"><stop offset="0" stop-color="#bcc0c0"/><stop offset="0.0625" stop-color="#bfc3c3"/><stop offset="0.125" stop-color="#c2c6c6"/><stop offset="0.1875" stop-color="#c5c9c9"/><stop offset="0.25" stop-color="#c7cbcb"/><stop offset="0.3125" stop-color="#cacece"/><stop offset="0.375" stop-color="#ccd0d0"/><stop offset="0.4375" stop-color="#cfd3d3"/><stop offset="0.5" stop-color="#d0d4d4"/><stop offset="0.5625" stop-color="#d2d6d6"/><stop offset="0.625" stop-color="#d3d7d7"/><stop offset="0.6875" stop-color="#d4d8d8"/><stop offset="0.75" stop-color="#d4d8d8"/><stop offset="0.8125" stop-color="#d3d7d7"/><stop offset="0.875" stop-color="#d2d6d6"/><stop offset="0.9375" stop-color="#d0d4d4"/><stop offset="1" stop-color="#ced2d2"/></linearGradient>
<linearGradient id="s54"><stop offset="0" stop-color="#bbbfbf"/><stop offset="0.0625" stop-color="#bec2c2"/><stop offset="0.125" stop-color="#c1c5c5"/><stop offset="0.1875" stop-color="#c4c8c8"/><stop offset="0.25" stop-color="#c7cbcb"/><stop offset="0.3125" stop-color="#c9cdcd"/><stop offset="0.375" stop-color="#ccd0d0"/><stop offset="0.4375" stop-color="#ced2d2"/><stop offset="0.5" stop-color="#d0d4d4"/><stop offset="0.5625" stop-color="#d1d5d5"/><stop offset="0.625" stop-color="#d2d6d6"/><stop offset="0.6875" stop-color="#d3d7d7"/><stop offset="0.75" stop-color="#d3d7d7"/><stop offset="0.8125" stop-color="#d2d6d6"/><stop offset="0.875" stop-color="#d1d5d5"/><stop offset="0.9375" stop-color="#cfd3d3"/><stop offset="1" stop-color="#cdd1d1"/></linearGradient>
<linearGradient id="s55"><stop offset="0" stop-color="#bbbfbf"/><stop offset="0.0625" stop-color="#bec2c2"/><stop offset="0.125" stop-color="#c0c4c4"/><stop offset="0.1875" stop-color="#c3c7c7"/><stop offset="0.25" stop-color="#c6caca"/><stop offset="0.3125" stop-color="#c9cdcd"/><stop offset="0.375" stop-color="#cbcfcf"/><stop offset="0.4375" stop-color="#cdd1d1"/><stop offset="0.5" stop-color="#cfd3d3"/><stop offset="0.5625" stop-color="#d0d4d4"/><stop offset="0.625" stop-color="#d1d5d5"/><stop offset="0.6875" stop-color="#d2d6d6"/><stop offset="0.75" stop-color="#d2d6d6"/><stop offset="0.8125" stop-color="#d1d5d5"/><stop offset="0.875" stop-color="#d0d4d4"/><stop offset="0.9375" stop-color="#ced2d2"/><stop offset="1" stop-color="#ccd0d0"/></linearGradient>
<linearGradient id="s56"><stop offset="0" stop-color="#babebe"/><stop offset="0.0625" stop-color="#bdc1c1"/><stop offset="0.125" stop-color="#c0c4c4"/><stop offset="0.1875" stop-color="#c3c7c7"/><stop offset="0.25" stop-color="#c5c9c9"/><stop offset="0.3125" stop-color="#c8cccc"/><stop offset="0.375" stop-color="#cacece"/><stop offset="0.4375" stop-color="#ccd0d0"/><stop offset="0.5" stop-color="#ced2d2"/><stop offset="0.5625" stop-color="#cfd3d3"/><stop offset="0.625" stop-color="#d0d4d4"/><stop offset="0.6875" stop-color="#d1d5d5"/><stop offset="0.75" stop-color="#d1d5d5"/><stop offset="0.8125" stop-color="#d0d4d4"/><stop offset="0.875" stop-color="#cfd3d3"/><stop offset="0.9375" stop-color="#cdd1d1"/><stop offset="1" stop-color="#cbcfcf"/></linearGradient>
<linearGradient id="s57"><stop offset="0" stop-color="#babebe"/><stop offset="0.0625" stop-color="#bcc0c0"/><stop offset="0.125" stop-color="#bfc3c3"/><stop offset="0.1875" stop-color="#c2c6c6"/><stop offset="0.25" stop-color="#c5c9c9"/><stop offset="0.3125" stop-color="#c7cbcb"/><stop offset="0.375" stop-color="#c9cdcd"/><stop offset="0.4375" stop-color="#ccd0d0"/><stop offset="0.5" stop-color="#cdd1d1"/><stop offset="0.5625" stop-color="#cfd3d3"/><stop offset="0.625" stop-color="#d0d4d4"/><stop offset="0.6875" stop-color="#d0d4d4"/><stop offset="0.75" stop-color="#d0d4d4"/><stop offset="0.8125" stop-color="#d0d4d4"/><stop offset="0.875" stop-color="#ced2d2"/><stop offset="0.9375" stop-color="#cdd1d1"/><stop offset="1" stop-color="#cacece"/></linearGradient>
<linearGradient id="s58"><stop offset="0" stop-color="#b9bdbd"/><stop offset="0.0625" stop-color="#bcc0c0"/><stop offset="0.125" stop-color="#bfc3c3"/><stop offset="0.1875" stop-color="#c1c5c5"/><stop offset="0.25" stop-color="#c4c8c8"/><stop offset="0.3125" stop-color="#c7cbcb"/><stop offset="0.375" stop-color="#c9cdcd"/><stop offset="0.4375" stop-color="#cbcfcf"/><stop offset="0.5" stop-color="#cdd1d1"/><stop offset="0.5625" stop-color="#ced2d2"/><stop offset="0.625" stop-color="#cfd3d3"/><stop offset="0.6875" stop-color="#cfd3d3"/><stop offset="0.75" stop-color="#cfd3d3"/><stop offset="0.8125" stop-color="#cfd3d3"/><stop offset="0.875" stop-color="#ced2d2"/><stop offset="0.9375" stop-color="#ccd0d0"/><stop offset="1" stop-color="#c9cdcd"/></linearGradient>
<linearGradient id="s59"><stop offset="0" stop-color="#b9bdbd"/><stop offset="0.0625" stop-color="#bcc0c0"/><stop offset="0.125" stop-color="#bec2c2"/><stop offset="0.1875" stop-color="#c1c5c5"/><stop offset="0.25" stop-color="#c4c8c8"/><stop offset="0.3125" stop-color="#c6caca"/><stop offset="0.375" stop-color="#c8cccc"/><stop offset="0.4375" stop-color="#cacece"/><stop offset="0.5" stop-color="#ccd0d0"/><stop offset="0.5625" stop-color="#cdd1d1"/><stop offset="0.625" stop-color="#ced2d2"/><stop offset="0.6875" stop-color="#cfd3d3"/><stop offset="0.75" stop-color="#cfd3d3"/><stop offset="0.8125" stop-color="#ced2d2"/><stop offset="0.875" stop-color="#cdd1d1"/><stop offset="0.9375" stop-color="#cbcfcf"/><stop offset="1" stop-color="#c8cccc"/></linearGradient>
<linearGradient id="s60"><stop offset="0" stop-color="#b9bdbd"/><stop offset="0.0625" stop-color="#bbbfbf"/><stop offset="0.125" stop-color="#bec2c2"/><stop offset="0.1875" stop-color="#c0c4c4"/><stop offset="0.25" stop-color="#c3c7c7"/><stop offset="0.3125" stop-color="#c5c9c9"/><stop offset="0.375" stop-color="#c8cccc"/><stop offset="0.4375" stop-color="#cacece"/><stop offset="0.5" stop-color="#cbcfcf"/><stop offset="0.5625" stop-color="#cdd1d1"/><stop offset="0.625" stop-color="#cdd1d1"/><stop offset="0.6875" stop-color="#ced2d2"/><stop offset="0.75" stop-color="#ced2d2"/><stop offset="0.8125" stop-color="#cdd1d1"/><stop offset="0.875" stop-color="#ccd0d0"/><stop offset="0.9375" stop-color="#cacece"/><stop offset="1" stop-color="#c7cbcb"/></linearGradient>
<linearGradient id="s61"><stop offset="0" stop-color="#b8bcbc"/><stop offset="0.0625" stop-color="#bbbfbf"/><stop offset="0.125" stop-color="#bdc1c1"/><stop offset="0.1875" stop-color="#c0c4c4"/><stop offset="0.25" stop-color="#c3c7c7"/><stop offset="0.3125" stop-color="#c5c9c9"/><stop offset="0.375" stop-color="#c7cbcb"/><stop offset="0.4375" stop-color="#c9cdcd"/><stop offset="0.5" stop-color="#cbcfcf"/><stop offset="0.5625" stop-color="#ccd0d0"/><stop offset="0.625" stop-color="#cdd1d1"/><stop offset="0.6875" stop-color="#cdd1d1"/><stop offset="0.75" stop-color="#cdd1d1"/><stop offset="0.8125" stop-color="#ccd0d0"/><stop offset="0.875" stop-color="#cbcfcf"/><stop offset="0.9375" stop-color="#c9cdcd"/><stop offset="1" stop-color="#c7cbcb"/></linearGradient>
<linearGradient id="s62"><stop offset="0" stop-color="#b8bcbc"/><stop offset="0.0625" stop-color="#babebe"/><stop offset="0.125" stop-color="#bdc1c1"/><stop offset="0.1875" stop-color="#c0c4c4"/><stop offset="0.25" stop-color="#c2c6c6"/><stop offset="0.3125" stop-color="#c4c8c8"/><stop offset="0.375" stop-color="#c6caca"/><stop offset="0.4375" stop-color="#c8cccc"/><stop offset="0.5" stop-color="#cacece"/><stop offset="0.5625" stop-color="#cbcfcf"/><stop offset="0.625" stop-color="#ccd0d0"/><stop offset="0.6875" stop-color="#ccd0d0"/><stop offset="0.75" stop-color="#ccd0d0"/><stop offset="0.8125" stop-color="#ccd0d0"/><stop offset="0.875" stop-color="#cacece"/><stop offset="0.9375" stop-color="#c8cccc"/><stop offset="1" stop-color="#c6caca"/></linearGradient>
<linearGradient id="s63"><stop offset="0" stop-color="#b8bcbc"/><stop offset="0.0625" stop-color="#babebe"/><stop offset="0.125" stop-color="#bdc1c1"/><stop offset="0.1875" stop-color="#bfc3c3"/><stop offset="0.25" stop-color="#c2c6c6"/><stop offset="0.3125" stop-color="#c4c8c8"/><stop offset="0.375" stop-color="#c6caca"/><stop offset="0.4375" stop-color="#c8cccc"/><stop offset="0.5" stop-color="#c9cdcd"/><stop offset="0.5625" stop-color="#cbcfcf"/><stop offset="0.625" stop-color="#cbcfcf"/><stop offset="0.6875" stop-color="#ccd0d0"/><stop offset="0.75" stop-color="#ccd0d0"/><stop offset="0.8125" stop-color="#cbcfcf"/><stop offset="0.875" stop-color="#cacece"/><stop offset="0.9375" stop-color="#c8cccc"/><stop offset="1" stop-color="#c5c9c9"/></linearGradient>
<linearGradient id="s64"><stop offset="0" stop-color="#b8bcbc"/><stop offset="0.0625" stop-color="#babebe"/><stop offset="0.125" stop-color="#bcc0c0"/><stop offset="0.1875" stop-color="#bfc3c3"/><stop offset="0.25" stop-color="#c1c5c5"/><stop offset="0.3125" stop-color="#c4c8c8"/><stop offset="0.375" stop-color="#c6caca"/><stop offset="0.4375" stop-color="#c7cbcb"/><stop offset="0.5" stop-color="#c9cdcd"/><stop offset="0.5625" stop-color="#cacece"/><stop offset="0.625" stop-color="#cbcfcf"/><stop offset="0.6875" stop-color="#cbcfcf"/><stop offset="0.75" stop-color="#cbcfcf"/><stop offset="0.8125" stop-color="#cacece"/><stop offset="0.875" stop-color="#c9cdcd"/><stop offset="0.9375" stop-color="#c7cbcb"/><stop offset="1" stop-color="#c4c8c8"/></linearGradient>
<linearGradient id="s65"><stop offset="0" stop-color="#b7bbbb"/><stop offset="0.0625" stop-color="#babebe"/><stop offset="0.125" stop-color="#bcc0c0"/><stop offset="0.1875" stop-color="#bfc3c3"/><stop offset="0.25" stop-color="#c1c5c5"/><stop offset="0.3125" stop-color="#c3c7c7"/><stop offset="0.375" stop-color="#c5c9c9"/><stop offset="0.4375" stop-color="#c7cbcb"/><stop offset="0.5" stop-color="#c8cccc"/><stop offset="0.5625" stop-color="#c9cdcd"/><stop offset="0.625" stop-color="#cacece"/><stop offset="0.6875" stop-color="#cacece"/><stop offset="0.75" stop-color="#cacece"/><stop offset="0.8125" stop-color="#cacece"/><stop offset="0.875" stop-color="#c8cccc"/><stop offset="0.9375" stop-color="#c6caca"/><stop offset="1" stop-color="#c3c7c7"/></linearGradient>
<linearGradient id="s66"><stop offset="0" stop-color="#b7bbbb"/><stop offset="0.0625" stop-color="#babebe"/><stop offset="0.125" stop-color="#bcc0c0"/><stop offset="0.1875" stop-color="#bec2c2"/><stop offset="0.25" stop-color="#c1c5c5"/><stop offset="0.3125" stop-color="#c3c7c7"/><stop offset="0.375" stop-color="#c5c9c9"/><stop offset="0.4375" stop-color="#c6caca"/><stop offset="0.5" stop-color="#c8cccc"/><stop offset="0.5625" stop-color="#c9cdcd"/><stop offset="0.625" stop-color="#cacece"/><stop offset="0.6875" stop-color="#cacece"/><stop offset="0.75" stop-color="#cacece"/><stop offset="0.8125" stop-color="#c9cdcd"/><stop offset="0.875" stop-color="#c7cbcb"/><stop offset="0.9375" stop-color="#c5c9c9"/><stop offset="1" stop-color="#c3c7c7"/></linearGradient>
<linearGradient id="s67"><stop offset="0" stop-color="#b7bbbb"/><stop offset="0.0625" stop-color="#babebe"/><stop offset="0.125" stop-color="#bcc0c0"/><stop offset="0.1875" stop-color="#bec2c2"/><stop offset="0.25" stop-color="#c0c4c4"/><stop offset="0.3125" stop-color="#c3c7c7"/><stop offset="0.375" stop-color="#c4c8c8"/><stop offset="0.4375" stop-color="#c6caca"/><stop offset="0.5" stop-color="#c7cbcb"/><stop offset="0.5625" stop-color="#c9cdcd"/><stop offset="0.625" stop-color="#c9cdcd"/><stop offset="0.6875" stop-color="#c9cdcd"/><stop offset="0.75" stop-color="#c9cdcd"/><stop offset="0.8125" stop-color="#c8cccc"/><stop offset="0.875" stop-color="#c7cbcb"/><stop offset="0.9375" stop-color="#c5c9c9"/><stop offset="1" stop-color="#c2c6c6"/></linearGradient>
<linearGradient id="s68"><stop offset="0" stop-color="#b7bbbb"/><stop offset="0.0625" stop-color="#babebe"/><stop offset="0.125" stop-color="#bcc0c0"/><stop offset="0.1875" stop-color="#bec2c2"/><stop offset="0.25" stop-color="#c0c4c4"/><stop offset="0.3125" stop-color="#c2c6c6"/><stop offset="0.375" stop-color="#c4c8c8"/><stop offset="0.4375" stop-color="#c6caca"/><stop offset="0.5" stop-color="#c7cbcb"/><stop offset="0.5625" stop-color="#c8cccc"/><stop offset="0.625" stop-color="#c9cdcd"/><stop offset="0.6875" stop-color="#c9cdcd"/><stop offset="0.75" stop-color="#c9cdcd"/><stop offset="0.8125" stop-color="#c8cccc"/><stop offset="0.875" stop-color="#c6caca"/><stop offset="0.9375" stop-color="#c4c8c8"/><stop offset="1" stop-color="#c1c5c5"/></linearGradient>
<linearGradient id="s69"><stop offset="0" stop-color="#b7bbbb"/><stop offset="0.0625" stop-color="#babebe"/><stop offset="0.125" stop-color="#bcc0c0"/><stop offset="0.1875" stop-color="#bec2c2"/><stop offset="0.25" stop-color="#c0c4c4"/><stop offset="0.3125" stop-color="#c2c6c6"/><stop offset="0.375" stop-color="#c4c8c8"/><stop offset="0.4375" stop-color="#c5c9c9"/><stop offset="0.5" stop-color="#c7cbcb"/><stop offset="0.5625" stop-color="#c8cccc"/><stop offset="0.625" stop-color="#c8cccc"/><stop offset="0.6875" stop-color="#c8cccc"/><stop offset="0.75" stop-color="#c8cccc"/><stop offset="0.8125" stop-color="#c7cbcb"/><stop offset="0.875" stop-color="#c6caca"/><stop offset="0.9375" stop-color="#c4c8c8"/><stop offset="1" stop-color="#c1c5c5"/></linearGradient>
<linearGradient id="s70"><stop offset="0" stop-color="#b8bcbc"/><stop offset="0.0625" stop-color="#babebe"/><stop offset="0.125" stop-color="#bcc0c0"/><stop offset="0.1875" stop-color="#bec2c2"/><stop offset="0.25" stop-color="#c0c4c4"/><stop offset="0.3125" stop-color="#c2c6c6"/><stop offset="0.375" stop-color="#c4c8c8"/><stop offset="0.4375" stop-color="#c5c9c9"/><stop offset="0.5" stop-color="#c7cbcb"/><stop offset="0.5625" stop-color="#c7cbcb"/><stop offset="0.625" stop-color="#c8cccc"/><stop offset="0.6875" stop-color="#c8cccc"/><stop offset="0.75" stop-color="#c8cccc"/><stop offset="0.8125" stop-color="#c7cbcb"/><stop offset="0.875" stop-color="#c5c9c9"/><stop offset="0.9375" stop-color="#c3c7c7"/><stop offset="1" stop-color="#c0c4c4"/></linearGradient>
<linearGradient id="s71"><stop offset="0" stop-color="#b8bcbc"/><stop offset="0.0625" stop-color="#babebe"/><stop offset="0.125" stop-color="#bcc0c0"/><stop offset="0.1875" stop-color="#bec2c2"/><stop offset="0.25" stop-color="#c0c4c4"/><stop offset="0.3125" stop-color="#c2c6c6"/><stop offset="0.375" stop-color="#c4c8c8"/><stop offset="0.4375" stop-color="#c5c9c9"/><stop offset="0.5" stop-color="#c6caca"/><stop offset="0.5625" stop-color="#c7cbcb"/><stop offset="0.625" stop-color="#c8cccc"/><stop offset="0.6875" stop-color="#c8cccc"/><stop offset="0.75" stop-color="#c7cbcb"/><stop offset="0.8125" stop-color="#c6caca"/><stop offset="0.875" stop-color="#c5c9c9"/><stop offset="0.9375" stop-color="#c2c6c6"/><stop offset="1" stop-color="#c0c4c4"/></linearGradient></defs>
<rect x="0" y="0" width="1280" height="10.5" fill="url(#s0)"/>
<rect x="0" y="10" width="1280" height="10.5" fill="url(#s1)"/>
<rect x="0" y="20" width="1280" height="10.5" fill="url(#s2)"/>
<rect x="0" y="30" width="1280" height="10.5" fill="url(#s3)"/>
<rect x="0" y="40" width="1280" height="10.5" fill="url(#s4)"/>
<rect x="0" y="50" width="1280" height="10.5" fill="url(#s5)"/>
<rect x="0" y="60" width="1280" height="10.5" fill="url(#s6)"/>
<rect x="0" y="70" width="1280" height="10.5" fill="url(#s7)"/>
<rect x="0" y="80" width="1280" height="10.5" fill="url(#s8)"/>
<rect x="0" y="90" width="1280" height="10.5" fill="url(#s9)"/>
<rect x="0" y="100" width="1280" height="10.5" fill="url(#s10)"/>
<rect x="0" y="110" width="1280" height="10.5" fill="url(#s11)"/>
<rect x="0" y="120" width="1280" height="10.5" fill="url(#s12)"/>
<rect x="0" y="130" width="1280" height="10.5" fill="url(#s13)"/>
<rect x="0" y="140" width="1280" height="10.5" fill="url(#s14)"/>
<rect x="0" y="150" width="1280" height="10.5" fill="url(#s15)"/>
<rect x="0" y="160" width="1280" height="10.5" fill="url(#s16)"/>
<rect x="0" y="170" width="1280" height="10.5" fill="url(#s17)"/>
<rect x="0" y="180" width="1280" height="10.5" fill="url(#s18)"/>
<rect x="0" y="190" width="1280" height="10.5" fill="url(#s19)"/>
<rect x="0" y="200" width="1280" height="10.5" fill="url(#s20)"/>
<rect x="0" y="210" width="1280" height="10.5" fill="url(#s21)"/>
<rect x="0" y="220" width="1280" height="10.5" fill="url(#s22)"/>
<rect x="0" y="230" width="1280" height="10.5" fill="url(#s23)"/>
<rect x="0" y="240" width="1280" height="10.5" fill="url(#s24)"/>
<rect x="0" y="250" width="1280" height="10.5" fill="url(#s25)"/>
<rect x="0" y="260" width="1280" height="10.5" fill="url(#s26)"/>
<rect x="0" y="270" width="1280" height="10.5" fill="url(#s27)"/>
<rect x="0" y="280" width="1280" height="10.5" fill="url(#s28)"/>
<rect x="0" y="290" width="1280" height="10.5" fill="url(#s29)"/>
<rect x="0" y="300" width="1280" height="10.5" fill="url(#s30)"/>
<rect x="0" y="310" width="1280" height="10.5" fill="url(#s31)"/>
<rect x="0" y="320" width="1280" height="10.5" fill="url(#s32)"/>
<rect x="0" y="330" width="1280" height="10.5" fill="url(#s33)"/>
<rect x="0" y="340" width="1280" height="10.5" fill="url(#s34)"/>
<rect x="0" y="350" width="1280" height="10.5" fill="url(#s35)"/>
<rect x="0" y="360" width="1280" height="10.5" fill="url(#s36)"/>
<rect x="0" y="370" width="1280" height="10.5" fill="url(#s37)"/>
<rect x="0" y="380" width="1280" height="10.5" fill="url(#s38)"/>
<rect x="0" y="390" width="1280" height="10.5" fill="url(#s39)"/>
<rect x="0" y="400" width="1280" height="10.5" fill="url(#s40)"/>
<rect x="0" y="410" width="1280" height="10.5" fill="url(#s41)"/>
<rect x="0" y="420" width="1280" height="10.5" fill="url(#s42)"/>
<rect x="0" y="430" width="1280" height="10.5" fill="url(#s43)"/>
<rect x="0" y="440" width="1280" height="10.5" fill="url(#s44)"/>
<rect x="0" y="450" width="1280" height="10.5" fill="url(#s45)"/>
<rect x="0" y="460" width="1280" height="10.5" fill="url(#s46)"/>
<rect x="0" y="470" width="1280" height="10.5" fill="url(#s47)"/>
<rect x="0" y="480" width="1280" height="10.5" fill="url(#s48)"/>
<rect x="0" y="490" width="1280" height="10.5" fill="url(#s49)"/>
<rect x="0" y="500" width="1280" height="10.5" fill="url(#s50)"/>
<rect x="0" y="510" width="1280" height="10.5" fill="url(#s51)"/>
<rect x="0" y="520" width="1280" height="10.5" fill="url(#s52)"/>
<rect x="0" y="530" width="1280" height="10.5" fill="url(#s53)"/>
<rect x="0" y="540" width="1280" height="10.5" fill="url(#s54)"/>
<rect x="0" y="550" width="1280" height="10.5" fill="url(#s55)"/>
<rect x="0" y="560" width="1280" height="10.5" fill="url(#s56)"/>
<rect x="0" y="570" width="1280" height="10.5" fill="url(#s57)"/>
<rect x="0" y="580" width="1280" height="10.5" fill="url(#s58)"/>
<rect x="0" y="590" width="1280" height="10.5" fill="url(#s59)"/>
<rect x="0" y="600" width="1280" height="10.5" fill="url(#s60)"/>
<rect x="0" y="610" width="1280" height="10.5" fill="url(#s61)"/>
<rect x="0" y="620" width="1280" height="10.5" fill="url(#s62)"/>
<rect x="0" y="630" width="1280" height="10.5" fill="url(#s63)"/>
<rect x="0" y="640" width="1280" height="10.5" fill="url(#s64)"/>
<rect x="0" y="650" width="1280" height="10.5" fill="url(#s65)"/>
<rect x="0" y="660" width="1280" height="10.5" fill="url(#s66)"/>
<rect x="0" y="670" width="1280" height="10.5" fill="url(#s67)"/>
<rect x="0" y="680" width="1280" height="10.5" fill="url(#s68)"/>
<rect x="0" y="690" width="1280" height="10.5" fill="url(#s69)"/>
<rect x="0" y="700" width="1280" height="10.5" fill="url(#s70)"/>
<rect x="0" y="710" width="1280" height="10.5" fill="url(#s71)"/>
<linearGradient id="gg" x1="0" y1="0" x2="0" y2="1"><stop offset="0" stop-color="#575757"/><stop offset="0.6" stop-color="#5c5c5c"/><stop offset="1" stop-color="#676767"/></linearGradient>
<linearGradient id="gn" x1="0" y1="0" x2="0" y2="1"><stop offset="0" stop-color="#89b733"/><stop offset="1" stop-color="#8fbd38"/></linearGradient>
<linearGradient id="gl" x1="0" y1="0" x2="1" y2="1"><stop offset="0" stop-color="#5f8425"/><stop offset="0.5" stop-color="#678c28"/><stop offset="1" stop-color="#6f972b"/></linearGradient>
<polygon points="107,0 133,0 42,553 17,550" fill="url(#gg)"/>
<polygon points="17,550 42,553 194,720 139,720" fill="#404040"/>
<polygon points="17,550 139,720 143,720 19.5,550.3" fill="#2a2a2a"/>
<polygon points="139,0 166,0 73,559 48,556" fill="url(#gn)"/>
<path d="M139.5,0 L48.5,556" stroke="#cfe6a0" stroke-width="1" fill="none" opacity="0.8"/>
<path d="M165.7,0 L72.7,559" stroke="#cfe6a0" stroke-width="1" fill="none" opacity="0.7"/>
<polygon points="48,556 73,559 271,720 200,720" fill="url(#gl)"/>
<polygon points="48,556 200,720 205,720 51.5,556.4" fill="#4f7320"/>
<rect x="160" y="130" width="960" height="460" fill="#ffffff"/>

<rect x="193.90" y="142.5" width="26.40" height="404" fill="#bfbfbf"/>
<rect x="547.05" y="142.5" width="27.50" height="404" fill="#bfbfbf"/>
<rect x="737.55" y="142.5" width="27.50" height="404" fill="#bfbfbf"/>
<g stroke="#8a8a8a" stroke-width="1.2" fill="none">
<path d="M193.5,142.5V438.0H1119"/>
<path d="M188.5,142.75H193.5"/>
<path d="M188.5,175.55H193.5"/>
<path d="M188.5,208.35H193.5"/>
<path d="M188.5,241.15H193.5"/>
<path d="M188.5,273.95H193.5"/>
<path d="M188.5,306.75H193.5"/>
<path d="M188.5,339.55H193.5"/>
<path d="M188.5,372.35H193.5"/>
<path d="M188.5,405.15H193.5"/>
<path d="M188.5,437.95H193.5"/>
<path d="M193.39,438.0v3.6" stroke="#a0a0a0"/>
<path d="M220.61,438.0v3.6" stroke="#a0a0a0"/>
<path d="M247.82,438.0v3.6" stroke="#a0a0a0"/>
<path d="M275.04,438.0v3.6" stroke="#a0a0a0"/>
<path d="M302.25,438.0v3.6" stroke="#a0a0a0"/>
<path d="M329.47,438.0v3.6" stroke="#a0a0a0"/>
<path d="M356.68,438.0v3.6" stroke="#a0a0a0"/>
<path d="M383.90,438.0v3.6" stroke="#a0a0a0"/>
<path d="M411.11,438.0v3.6" stroke="#a0a0a0"/>
<path d="M438.33,438.0v3.6" stroke="#a0a0a0"/>
<path d="M465.54,438.0v3.6" stroke="#a0a0a0"/>
<path d="M492.76,438.0v3.6" stroke="#a0a0a0"/>
<path d="M519.97,438.0v3.6" stroke="#a0a0a0"/>
<path d="M547.19,438.0v3.6" stroke="#a0a0a0"/>
<path d="M574.40,438.0v3.6" stroke="#a0a0a0"/>
<path d="M601.62,438.0v3.6" stroke="#a0a0a0"/>
<path d="M628.83,438.0v3.6" stroke="#a0a0a0"/>
<path d="M656.05,438.0v3.6" stroke="#a0a0a0"/>
<path d="M683.27,438.0v3.6" stroke="#a0a0a0"/>
<path d="M710.48,438.0v3.6" stroke="#a0a0a0"/>
<path d="M737.70,438.0v3.6" stroke="#a0a0a0"/>
<path d="M764.91,438.0v3.6" stroke="#a0a0a0"/>
<path d="M792.13,438.0v3.6" stroke="#a0a0a0"/>
<path d="M819.34,438.0v3.6" stroke="#a0a0a0"/>
<path d="M846.56,438.0v3.6" stroke="#a0a0a0"/>
<path d="M873.77,438.0v3.6" stroke="#a0a0a0"/>
<path d="M900.99,438.0v3.6" stroke="#a0a0a0"/>
<path d="M928.20,438.0v3.6" stroke="#a0a0a0"/>
<path d="M955.42,438.0v3.6" stroke="#a0a0a0"/>
<path d="M982.63,438.0v3.6" stroke="#a0a0a0"/>
<path d="M1009.85,438.0v3.6" stroke="#a0a0a0"/>
<path d="M1037.06,438.0v3.6" stroke="#a0a0a0"/>
<path d="M1064.28,438.0v3.6" stroke="#a0a0a0"/>
<path d="M1091.49,438.0v3.6" stroke="#a0a0a0"/>
<path d="M1118.71,438.0v3.6" stroke="#a0a0a0"/>
</g>
<text transform="translate(163.2,146.95) scale(0.955,1.1)" font-size="13.5" fill="#111" stroke="#111" stroke-width="0.22">73</text>
<text transform="translate(163.2,179.75) scale(0.955,1.1)" font-size="13.5" fill="#111" stroke="#111" stroke-width="0.22">71</text>
<text transform="translate(163.2,212.55) scale(0.955,1.1)" font-size="13.5" fill="#111" stroke="#111" stroke-width="0.22">69</text>
<text transform="translate(163.2,245.35) scale(0.955,1.1)" font-size="13.5" fill="#111" stroke="#111" stroke-width="0.22">67</text>
<text transform="translate(163.2,278.15) scale(0.955,1.1)" font-size="13.5" fill="#111" stroke="#111" stroke-width="0.22">65</text>
<text transform="translate(163.2,310.95) scale(0.955,1.1)" font-size="13.5" fill="#111" stroke="#111" stroke-width="0.22">63</text>
<text transform="translate(163.2,343.75) scale(0.955,1.1)" font-size="13.5" fill="#111" stroke="#111" stroke-width="0.22">61</text>
<text transform="translate(163.2,376.55) scale(0.955,1.1)" font-size="13.5" fill="#111" stroke="#111" stroke-width="0.22">59</text>
<text transform="translate(163.2,409.35) scale(0.955,1.1)" font-size="13.5" fill="#111" stroke="#111" stroke-width="0.22">57</text>
<text transform="translate(163.2,442.15) scale(0.955,1.1)" font-size="13.5" fill="#111" stroke="#111" stroke-width="0.22">55</text>
<rect x="199.00" y="161.25" width="16" height="276.15" fill="#a71e22"/>
<rect x="226.22" y="192.50" width="16" height="244.90" fill="#a71e22"/>
<rect x="253.43" y="200.50" width="16" height="236.90" fill="#a71e22"/>
<rect x="280.65" y="205.75" width="16" height="231.65" fill="#a71e22"/>
<rect x="307.86" y="212.75" width="16" height="224.65" fill="#a71e22"/>
<rect x="335.08" y="234.75" width="16" height="202.65" fill="#a71e22"/>
<rect x="362.29" y="243.25" width="16" height="194.15" fill="#a71e22"/>
<rect x="389.51" y="244.25" width="16" height="193.15" fill="#a71e22"/>
<rect x="416.72" y="266.25" width="16" height="171.15" fill="#a71e22"/>
<rect x="443.94" y="272.50" width="16" height="164.90" fill="#a71e22"/>
<rect x="471.15" y="273.00" width="16" height="164.40" fill="#a71e22"/>
<rect x="498.37" y="274.25" width="16" height="163.15" fill="#a71e22"/>
<rect x="525.58" y="279.00" width="16" height="158.40" fill="#a71e22"/>
<rect x="552.80" y="282.00" width="16" height="155.40" fill="#a71e22"/>
<rect x="580.01" y="282.50" width="16" height="154.90" fill="#a71e22"/>
<rect x="607.23" y="288.50" width="16" height="148.90" fill="#a71e22"/>
<rect x="634.44" y="292.00" width="16" height="145.40" fill="#a71e22"/>
<rect x="661.66" y="296.75" width="16" height="140.65" fill="#a71e22"/>
<rect x="688.87" y="310.50" width="16" height="126.90" fill="#a71e22"/>
<rect x="716.09" y="310.75" width="16" height="126.65" fill="#a71e22"/>
<rect x="743.30" y="311.75" width="16" height="125.65" fill="#a71e22"/>
<rect x="770.52" y="315.00" width="16" height="122.40" fill="#a71e22"/>
<rect x="797.73" y="317.25" width="16" height="120.15" fill="#a71e22"/>
<rect x="824.95" y="325.50" width="16" height="111.90" fill="#a71e22"/>
<rect x="852.16" y="330.00" width="16" height="107.40" fill="#a71e22"/>
<rect x="879.38" y="330.00" width="16" height="107.40" fill="#a71e22"/>
<rect x="906.59" y="335.50" width="16" height="101.90" fill="#a71e22"/>
<rect x="933.81" y="338.75" width="16" height="98.65" fill="#a71e22"/>
<rect x="961.02" y="340.00" width="16" height="97.40" fill="#a71e22"/>
<rect x="988.24" y="342.00" width="16" height="95.40" fill="#a71e22"/>
<rect x="1015.45" y="354.25" width="16" height="83.15" fill="#a71e22"/>
<rect x="1042.67" y="355.75" width="16" height="81.65" fill="#a71e22"/>
<rect x="1069.88" y="360.00" width="16" height="77.40" fill="#a71e22"/>
<rect x="1097.10" y="363.75" width="16" height="73.65" fill="#a71e22"/>
<polygon points="207.00,233.75 213.60,245.00 200.40,245.00" fill="#fff3ee"/>
<polygon points="207.00,236.62 211.07,243.55 202.93,243.55" fill="#d8281c"/>
<polygon points="234.22,160.75 239.42,169.50 229.02,169.50" fill="#d8281c"/>
<polygon points="261.43,237.00 268.03,248.00 254.83,248.00" fill="#fff3ee"/>
<polygon points="261.43,239.82 265.47,246.55 257.39,246.55" fill="#d8281c"/>
<polygon points="288.65,231.75 295.25,243.00 282.05,243.00" fill="#fff3ee"/>
<polygon points="288.65,234.62 292.71,241.55 284.58,241.55" fill="#d8281c"/>
<polygon points="315.86,222.00 322.46,233.75 309.26,233.75" fill="#fff3ee"/>
<polygon points="315.86,224.96 319.98,232.30 311.74,232.30" fill="#d8281c"/>
<polygon points="343.08,278.75 349.68,290.50 336.48,290.50" fill="#fff3ee"/>
<polygon points="343.08,281.71 347.20,289.05 338.95,289.05" fill="#d8281c"/>
<polygon points="370.29,276.00 376.89,287.50 363.69,287.50" fill="#fff3ee"/>
<polygon points="370.29,278.91 374.39,286.05 366.19,286.05" fill="#d8281c"/>
<polygon points="397.51,302.50 404.11,314.00 390.91,314.00" fill="#fff3ee"/>
<polygon points="397.51,305.41 401.60,312.55 393.41,312.55" fill="#d8281c"/>
<polygon points="424.72,288.75 431.32,300.00 418.12,300.00" fill="#fff3ee"/>
<polygon points="424.72,291.62 428.79,298.55 420.65,298.55" fill="#d8281c"/>
<polygon points="451.94,302.50 458.54,315.00 445.34,315.00" fill="#fff3ee"/>
<polygon points="451.94,305.61 456.13,313.55 447.74,313.55" fill="#d8281c"/>
<polygon points="479.15,280.50 485.75,293.25 472.55,293.25" fill="#fff3ee"/>
<polygon points="479.15,283.65 483.37,291.80 474.93,291.80" fill="#d8281c"/>
<polygon points="506.37,310.75 512.97,323.75 499.77,323.75" fill="#fff3ee"/>
<polygon points="506.37,313.95 510.60,322.30 502.13,322.30" fill="#d8281c"/>
<polygon points="533.58,314.50 540.18,327.00 526.98,327.00" fill="#fff3ee"/>
<polygon points="533.58,317.61 537.78,325.55 529.39,325.55" fill="#d8281c"/>
<polygon points="560.80,262.50 567.40,275.50 554.20,275.50" fill="#fff3ee"/>
<polygon points="560.80,265.70 565.03,274.05 556.56,274.05" fill="#d8281c"/>
<polygon points="588.01,316.25 594.61,328.75 581.41,328.75" fill="#fff3ee"/>
<polygon points="588.01,319.36 592.21,327.30 583.82,327.30" fill="#d8281c"/>
<polygon points="615.23,302.00 621.83,315.00 608.63,315.00" fill="#fff3ee"/>
<polygon points="615.23,305.20 619.46,313.55 610.99,313.55" fill="#d8281c"/>
<polygon points="642.44,360.75 649.04,373.75 635.84,373.75" fill="#fff3ee"/>
<polygon points="642.44,363.95 646.68,372.30 638.20,372.30" fill="#d8281c"/>
<polygon points="669.66,309.00 676.26,322.00 663.06,322.00" fill="#fff3ee"/>
<polygon points="669.66,312.20 673.90,320.55 665.42,320.55" fill="#d8281c"/>
<polygon points="696.87,354.50 703.47,367.50 690.27,367.50" fill="#fff3ee"/>
<polygon points="696.87,357.70 701.11,366.05 692.64,366.05" fill="#d8281c"/>
<polygon points="724.09,337.50 730.69,350.50 717.49,350.50" fill="#fff3ee"/>
<polygon points="724.09,340.70 728.33,349.05 719.85,349.05" fill="#d8281c"/>
<polygon points="751.30,298.25 757.90,310.75 744.70,310.75" fill="#fff3ee"/>
<polygon points="751.30,301.36 755.50,309.30 747.11,309.30" fill="#d8281c"/>
<polygon points="778.52,351.25 785.12,363.75 771.92,363.75" fill="#fff3ee"/>
<polygon points="778.52,354.36 782.71,362.30 774.32,362.30" fill="#d8281c"/>
<polygon points="805.73,321.75 812.33,334.50 799.13,334.50" fill="#fff3ee"/>
<polygon points="805.73,324.90 809.95,333.05 801.52,333.05" fill="#d8281c"/>
<polygon points="832.95,348.75 839.55,361.25 826.35,361.25" fill="#fff3ee"/>
<polygon points="832.95,351.86 837.14,359.80 828.75,359.80" fill="#d8281c"/>
<polygon points="860.16,392.50 866.76,405.00 853.56,405.00" fill="#fff3ee"/>
<polygon points="860.16,395.61 864.36,403.55 855.97,403.55" fill="#d8281c"/>
<polygon points="887.38,346.75 893.98,359.50 880.78,359.50" fill="#fff3ee"/>
<polygon points="887.38,349.90 891.60,358.05 883.16,358.05" fill="#d8281c"/>
<polygon points="914.59,338.25 921.19,351.25 907.99,351.25" fill="#fff3ee"/>
<polygon points="914.59,341.45 918.83,349.80 910.36,349.80" fill="#d8281c"/>
<polygon points="941.81,356.75 948.41,369.25 935.21,369.25" fill="#fff3ee"/>
<polygon points="941.81,359.86 946.00,367.80 937.61,367.80" fill="#d8281c"/>
<polygon points="969.02,347.50 975.62,360.00 962.42,360.00" fill="#fff3ee"/>
<polygon points="969.02,350.61 973.22,358.55 964.83,358.55" fill="#d8281c"/>
<polygon points="996.24,316.25 1001.44,325.00 991.04,325.00" fill="#d8281c"/>
<polygon points="1023.45,383.25 1030.05,395.75 1016.85,395.75" fill="#fff3ee"/>
<polygon points="1023.45,386.36 1027.65,394.30 1019.26,394.30" fill="#d8281c"/>
<polygon points="1050.67,399.50 1057.27,412.00 1044.07,412.00" fill="#fff3ee"/>
<polygon points="1050.67,402.61 1054.86,410.55 1046.48,410.55" fill="#d8281c"/>
<polygon points="1077.88,371.25 1084.48,383.75 1071.28,383.75" fill="#fff3ee"/>
<polygon points="1077.88,374.36 1082.08,382.30 1073.69,382.30" fill="#d8281c"/>
<polygon points="1105.10,367.50 1111.70,380.00 1098.50,380.00" fill="#fff3ee"/>
<polygon points="1105.10,370.61 1109.29,378.55 1100.91,378.55" fill="#d8281c"/>
<text transform="translate(211.90,446.2) rotate(-90)" text-anchor="end" font-size="13.55" fill="#111" stroke="#111" stroke-width="0.12">Korea</text>
<text transform="translate(239.12,446.2) rotate(-90)" text-anchor="end" font-size="13.55" fill="#111" stroke="#111" stroke-width="0.32">Mexico</text>
<text transform="translate(266.33,446.2) rotate(-90)" text-anchor="end" font-size="13.55" fill="#111" stroke="#111" stroke-width="0.12">Chile</text>
<text transform="translate(293.55,446.2) rotate(-90)" text-anchor="end" font-size="13.55" fill="#111" stroke="#111" stroke-width="0.32">Iceland</text>
<text transform="translate(320.76,446.2) rotate(-90)" text-anchor="end" font-size="13.55" fill="#111" stroke="#111" stroke-width="0.12">Japan</text>
<text transform="translate(347.98,446.2) rotate(-90)" text-anchor="end" font-size="13.55" fill="#111" stroke="#111" stroke-width="0.32">Israel</text>
<text transform="translate(375.19,446.2) rotate(-90)" text-anchor="end" font-size="13.55" fill="#111" stroke="#111" stroke-width="0.12">Portugal</text>
<text transform="translate(402.41,446.2) rotate(-90)" text-anchor="end" font-size="13.55" fill="#111" stroke="#111" stroke-width="0.12">New Zealand</text>
<text transform="translate(429.62,446.2) rotate(-90)" text-anchor="end" font-size="13.55" fill="#111" stroke="#111" stroke-width="0.12">United States</text>
<text transform="translate(456.84,446.2) rotate(-90)" text-anchor="end" font-size="13.55" fill="#111" stroke="#111" stroke-width="0.12">Sweden</text>
<text transform="translate(484.05,446.2) rotate(-90)" text-anchor="end" font-size="13.55" fill="#111" stroke="#111" stroke-width="0.12">Switzerland</text>
<text transform="translate(511.27,446.2) rotate(-90)" text-anchor="end" font-size="13.55" fill="#111" stroke="#111" stroke-width="0.12">Norway</text>
<text transform="translate(538.48,446.2) rotate(-90)" text-anchor="end" font-size="13.55" fill="#111" stroke="#111" stroke-width="0.12">Turkey</text>
<text transform="translate(565.70,446.2) rotate(-90)" text-anchor="end" font-size="13.55" fill="#111" stroke="#111" stroke-width="0.32">Ireland</text>
<text transform="translate(592.91,446.2) rotate(-90)" text-anchor="end" font-size="13.55" fill="#111" stroke="#111" stroke-width="0.12">Australia</text>
<text transform="translate(620.13,446.2) rotate(-90)" text-anchor="end" font-size="13.55" fill="#111" stroke="#111" stroke-width="0.12">Canada</text>
<text transform="translate(647.34,446.2) rotate(-90)" text-anchor="end" font-size="13.55" fill="#111" stroke="#111" stroke-width="0.12">Estonia</text>
<text transform="translate(674.56,446.2) rotate(-90)" text-anchor="end" font-size="13.55" fill="#111" stroke="#111" stroke-width="0.12">United Kingdom</text>
<text transform="translate(701.77,446.2) rotate(-90)" text-anchor="end" font-size="13.55" fill="#111" stroke="#111" stroke-width="0.32">Netherlands</text>
<text transform="translate(728.99,446.2) rotate(-90)" text-anchor="end" font-size="13.55" fill="#111" stroke="#111" stroke-width="0.12">Germany</text>
<text transform="translate(756.20,446.2) rotate(-90)" text-anchor="end" font-size="13.55" fill="#111" stroke="#111" stroke-width="0.32">Denmark</text>
<text transform="translate(783.42,446.2) rotate(-90)" text-anchor="end" font-size="13.55" fill="#111" stroke="#111" stroke-width="0.12">Finland</text>
<text transform="translate(810.63,446.2) rotate(-90)" text-anchor="end" font-size="13.55" fill="#111" stroke="#111" stroke-width="0.12">Spain</text>
<text transform="translate(837.85,446.2) rotate(-90)" text-anchor="end" font-size="13.55" fill="#111" stroke="#111" stroke-width="0.12">Czech Republic</text>
<text transform="translate(865.06,446.2) rotate(-90)" text-anchor="end" font-size="13.55" fill="#111" stroke="#111" stroke-width="0.12">Hungary</text>
<text transform="translate(892.28,446.2) rotate(-90)" text-anchor="end" font-size="13.55" fill="#111" stroke="#111" stroke-width="0.12">Slovenia</text>
<text transform="translate(919.49,446.2) rotate(-90)" text-anchor="end" font-size="13.55" fill="#111" stroke="#111" stroke-width="0.12">Italy</text>
<text transform="translate(946.71,446.2) rotate(-90)" text-anchor="end" font-size="13.55" fill="#111" stroke="#111" stroke-width="0.12">Austria</text>
<text transform="translate(973.92,446.2) rotate(-90)" text-anchor="end" font-size="13.55" fill="#111" stroke="#111" stroke-width="0.12">Poland</text>
<text transform="translate(1001.14,446.2) rotate(-90)" text-anchor="end" font-size="13.55" fill="#111" stroke="#111" stroke-width="0.12">Greece</text>
<text transform="translate(1028.35,446.2) rotate(-90)" text-anchor="end" font-size="13.55" fill="#111" stroke="#111" stroke-width="0.12">Slovak Republic</text>
<text transform="translate(1055.57,446.2) rotate(-90)" text-anchor="end" font-size="13.55" fill="#111" stroke="#111" stroke-width="0.12">Belgium</text>
<text transform="translate(1082.78,446.2) rotate(-90)" text-anchor="end" font-size="13.55" fill="#111" stroke="#111" stroke-width="0.12">Luxembourg</text>
<text transform="translate(1110.00,446.2) rotate(-90)" text-anchor="end" font-size="13.55" fill="#111" stroke="#111" stroke-width="0.12">France</text>
<rect x="579.7" y="571.3" width="8" height="7.6" fill="#a71e22"/>
<text x="590.3" y="579.2" font-size="13.3" fill="#111">2015</text>
<polygon points="633.2,572.6 636.6,578.4 629.8,578.4" fill="#d8281c"/>
<text x="639.4" y="579.2" font-size="13.3" fill="#111">2003</text>
<g transform="scale(1.36,1)"><text x="710.3 727.9 744.5 759.9 777.2 793.2 810.7 829.4 847.8 864.7" y="652.4" text-anchor="middle" style="font-family:'DejaVu Sans Mono','Liberation Mono',monospace;font-weight:normal;font-size:33px;stroke-width:1.1px;stroke-linejoin:round;paint-order:stroke"><tspan fill="#1a4db3" stroke="#1a4db3">entre</tspan><tspan fill="#777777" stroke="#777777">ca</tspan><tspan fill="#1a4db3" stroke="#1a4db3">nos</tspan></text></g>
<circle cx="1080.3" cy="628.7" r="3.3" fill="#ef7f1f"/><circle cx="1100.6" cy="628.7" r="3.3" fill="#ef7f1f"/>

</svg>
<div class="title">PwC/OCDE</div>
<div class="sub">Edad promedio de retiro</div>
<div class="src">Fuente: PwC Golden Age Index, OCDE<br><span style="letter-spacing:0.08px">Fecha de elaboración: Junio 2017</span></div>
</body></html>
